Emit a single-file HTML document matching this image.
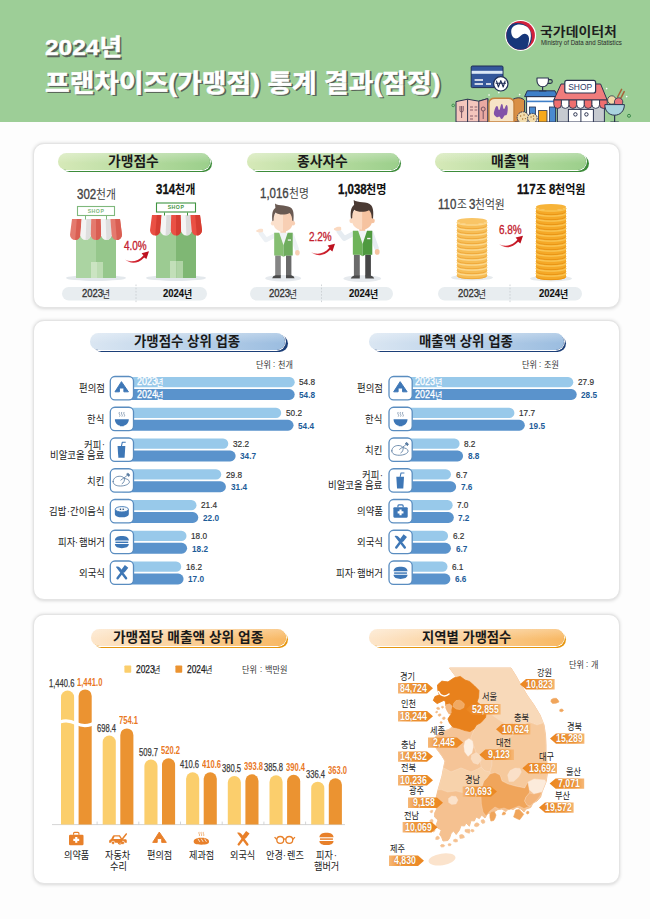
<!DOCTYPE html>
<html lang="ko"><head><meta charset="utf-8"><title>2024년 프랜차이즈(가맹점) 통계 결과(잠정)</title>
<style>
html,body{margin:0;padding:0}
body{width:650px;height:919px;background:#fdfdfd;position:relative;overflow:hidden;font-family:"Liberation Sans","Noto Sans CJK KR",sans-serif;color:#222}
.k{position:absolute;overflow:visible}
.k text{font-family:"Liberation Sans","Noto Sans CJK KR",sans-serif}
.a{position:absolute}
.n{position:absolute;white-space:nowrap;line-height:1;transform-origin:0 0}
.card{position:absolute;background:#fff;border-radius:11px;border:1px solid #e4e4e4;box-shadow:0 .5px 3.5px rgba(0,0,0,.15);box-sizing:border-box}
.pill{position:absolute;border-radius:10px;box-sizing:border-box}
</style></head>
<body>
<div class="a" style="left:0;top:0;width:650px;height:122px;background:#9dce97"></div>
<svg class="k" style="left:42.5px;top:32.67px" width="82.88" height="29.84"><text x="3.7" y="24.02" font-size="22.95" font-weight="700" fill="#566056" stroke="#566056" stroke-width=".5" stroke-linejoin="round" textLength="76.9" lengthAdjust="spacingAndGlyphs">2024년</text><text x="2" y="22.32" font-size="22.95" font-weight="700" fill="#fff" stroke="#fff" stroke-width=".5" stroke-linejoin="round" textLength="76.9" lengthAdjust="spacingAndGlyphs">2024년</text></svg>
<svg class="k" style="left:42.5px;top:67.3px" width="402.27" height="33.02"><text x="3.7" y="26.4" font-size="25.39" font-weight="700" fill="#566056" stroke="#566056" stroke-width=".55" stroke-linejoin="round" textLength="395.5" lengthAdjust="spacingAndGlyphs">프랜차이즈(가맹점) 통계 결과(잠정)</text><text x="2" y="24.7" font-size="25.39" font-weight="700" fill="#fff" stroke="#fff" stroke-width=".55" stroke-linejoin="round" textLength="395.5" lengthAdjust="spacingAndGlyphs">프랜차이즈(가맹점) 통계 결과(잠정)</text></svg>
<div class="card" style="left:32.5px;top:143px;width:587px;height:165.4px"></div>
<div class="card" style="left:32.5px;top:320.3px;width:587px;height:280px"></div>
<div class="card" style="left:32.5px;top:614.3px;width:587px;height:269.6px"></div>
<div class="pill" style="left:60.6px;top:155.10000000000002px;width:151.5px;height:17px;background:#3d8c3a"></div>
<div class="pill" style="left:58px;top:152.8px;width:151.5px;height:17px;box-shadow:0 0 0 .9px #fff;background:linear-gradient(180deg,rgba(255,255,255,.28),rgba(255,255,255,0) 60%),linear-gradient(90deg,#d6e9b8,#9bcf8b)"></div>
<svg class="k" style="left:106.35px;top:152.97px" width="54.79" height="17.78"><text x="2" y="13.3" font-size="13.67" font-weight="700" fill="#1a1a1a" textLength="50.79" lengthAdjust="spacingAndGlyphs">가맹점수</text></svg>
<div class="pill" style="left:249.6px;top:155.10000000000002px;width:151.5px;height:17px;background:#3d8c3a"></div>
<div class="pill" style="left:247px;top:152.8px;width:151.5px;height:17px;box-shadow:0 0 0 .9px #fff;background:linear-gradient(180deg,rgba(255,255,255,.28),rgba(255,255,255,0) 60%),linear-gradient(90deg,#d6e9b8,#9bcf8b)"></div>
<svg class="k" style="left:295.35px;top:152.97px" width="54.79" height="17.78"><text x="2" y="13.3" font-size="13.67" font-weight="700" fill="#1a1a1a" textLength="50.79" lengthAdjust="spacingAndGlyphs">종사자수</text></svg>
<div class="pill" style="left:437.1px;top:155.10000000000002px;width:151.5px;height:17px;background:#3d8c3a"></div>
<div class="pill" style="left:434.5px;top:152.8px;width:151.5px;height:17px;box-shadow:0 0 0 .9px #fff;background:linear-gradient(180deg,rgba(255,255,255,.28),rgba(255,255,255,0) 60%),linear-gradient(90deg,#d6e9b8,#9bcf8b)"></div>
<svg class="k" style="left:489.2px;top:152.97px" width="42.1" height="17.78"><text x="2" y="13.3" font-size="13.67" font-weight="700" fill="#1a1a1a" textLength="38.1" lengthAdjust="spacingAndGlyphs">매출액</text></svg>
<div class="pill" style="left:92.6px;top:335.1px;width:195px;height:17px;background:#1c3f78"></div>
<div class="pill" style="left:90px;top:332.8px;width:195px;height:17px;box-shadow:0 0 0 .9px #fff;background:linear-gradient(180deg,rgba(255,255,255,.28),rgba(255,255,255,0) 60%),linear-gradient(90deg,#dae6f2,#9bbde0)"></div>
<svg class="k" style="left:132.39px;top:332.97px" width="110.23" height="17.78"><text x="2" y="13.3" font-size="13.67" font-weight="700" fill="#1a1a1a" textLength="106.23" lengthAdjust="spacingAndGlyphs">가맹점수 상위 업종</text></svg>
<div class="pill" style="left:371.6px;top:335.1px;width:194.5px;height:17px;background:#1c3f78"></div>
<div class="pill" style="left:369px;top:332.8px;width:194.5px;height:17px;box-shadow:0 0 0 .9px #fff;background:linear-gradient(180deg,rgba(255,255,255,.28),rgba(255,255,255,0) 60%),linear-gradient(90deg,#dae6f2,#9bbde0)"></div>
<svg class="k" style="left:417.34px;top:332.97px" width="97.81" height="17.78"><text x="2" y="13.3" font-size="13.67" font-weight="700" fill="#1a1a1a" textLength="93.81" lengthAdjust="spacingAndGlyphs">매출액 상위 업종</text></svg>
<div class="pill" style="left:93.39999999999999px;top:631.0999999999999px;width:195px;height:17px;background:#e6960e"></div>
<div class="pill" style="left:90.8px;top:628.8px;width:195px;height:17px;box-shadow:0 0 0 .9px #fff;background:linear-gradient(180deg,rgba(255,255,255,.28),rgba(255,255,255,0) 60%),linear-gradient(90deg,#fde6cb,#f8b863)"></div>
<svg class="k" style="left:111.17px;top:628.97px" width="154.27" height="17.78"><text x="2" y="13.3" font-size="13.67" font-weight="700" fill="#1a1a1a" textLength="150.27" lengthAdjust="spacingAndGlyphs">가맹점당 매출액 상위 업종</text></svg>
<div class="pill" style="left:371.8px;top:631.0999999999999px;width:194.5px;height:17px;background:#e6960e"></div>
<div class="pill" style="left:369.2px;top:628.8px;width:194.5px;height:17px;box-shadow:0 0 0 .9px #fff;background:linear-gradient(180deg,rgba(255,255,255,.28),rgba(255,255,255,0) 60%),linear-gradient(90deg,#fde6cb,#f8b863)"></div>
<svg class="k" style="left:419.78px;top:628.97px" width="93.34" height="17.78"><text x="2" y="13.3" font-size="13.67" font-weight="700" fill="#1a1a1a" textLength="89.34" lengthAdjust="spacingAndGlyphs">지역별 가맹점수</text></svg>
<svg class="a" style="left:0;top:0" width="650" height="919" viewBox="0 0 650 919"><defs><linearGradient id="ra" x1="0" y1="0" x2="1" y2="0"><stop offset="0" stop-color="#f0a0a4"/><stop offset=".3" stop-color="#d62a36"/><stop offset="1" stop-color="#b80d1b"/></linearGradient></defs><rect x="62" y="287" width="145" height="13.5" rx="6.7" fill="#e8edf0"/><path d="M136 284.5V303" stroke="#c5cace" stroke-width=".8" stroke-dasharray="1.6 1.6"/><rect x="250" y="287" width="143" height="13.5" rx="6.7" fill="#e8edf0"/><path d="M321.5 284.5V303" stroke="#c5cace" stroke-width=".8" stroke-dasharray="1.6 1.6"/><rect x="438" y="287" width="144" height="13.5" rx="6.7" fill="#e8edf0"/><path d="M510 284.5V303" stroke="#c5cace" stroke-width=".8" stroke-dasharray="1.6 1.6"/><ellipse cx="96" cy="278" rx="30" ry="3" fill="#e3e8ec"/><rect x="76" y="236" width="20" height="42" fill="#abd4a2"/><rect x="96" y="236" width="20" height="42" fill="#96c78c"/><rect x="91" y="262" width="6.0" height="16" fill="#cbe4c2"/><rect x="97.0" y="262" width="6.0" height="16" fill="#bcdcb2"/><path d="M72 219 L81.6 219 L80.4 234.8 A5.2 5.2 0 0 1 70 234.8 Z" fill="#e47a6e"/><path d="M76.8 219 L81.6 219 L80.4 234.8 A5.2 5.2 0 0 1 75.2 240 Z" fill="#d95e52"/><path d="M81.6 219 L91.2 219 L90.8 234.8 A5.2 5.2 0 0 1 80.4 234.8 Z" fill="#f3f3f3"/><path d="M86.4 219 L91.2 219 L90.8 234.8 A5.2 5.2 0 0 1 85.6 240 Z" fill="#dedede"/><path d="M91.2 219 L100.8 219 L101.2 234.8 A5.2 5.2 0 0 1 90.8 234.8 Z" fill="#e47a6e"/><path d="M96 219 L100.8 219 L101.2 234.8 A5.2 5.2 0 0 1 96 240 Z" fill="#d95e52"/><path d="M100.8 219 L110.4 219 L111.6 234.8 A5.2 5.2 0 0 1 101.2 234.8 Z" fill="#f3f3f3"/><path d="M105.6 219 L110.4 219 L111.6 234.8 A5.2 5.2 0 0 1 106.4 240 Z" fill="#dedede"/><path d="M110.4 219 L120 219 L122 234.8 A5.2 5.2 0 0 1 111.6 234.8 Z" fill="#e47a6e"/><path d="M115.2 219 L120 219 L122 234.8 A5.2 5.2 0 0 1 116.8 240 Z" fill="#d95e52"/><rect x="85" y="216" width="1" height="3.5" fill="#7fb87c"/><rect x="106" y="216" width="1" height="3.5" fill="#7fb87c"/><rect x="77.5" y="206.5" width="37" height="9" fill="#fff" stroke="#7fb87c" stroke-width="1.1"/><text x="96" y="212.9" font-size="5.2" font-weight="700" text-anchor="middle" fill="#7fb87c" letter-spacing=".5" font-family="Liberation Sans,sans-serif">SHOP</text><ellipse cx="176" cy="278" rx="30" ry="3" fill="#e3e8ec"/><rect x="156" y="231.5" width="20" height="46.5" fill="#9ccb92"/><rect x="176" y="231.5" width="20" height="46.5" fill="#7fb774"/><rect x="170" y="261" width="6.5" height="17" fill="#c2dfb9"/><rect x="176.5" y="261" width="6.5" height="17" fill="#b0d4a6"/><path d="M152 215 L161.6 215 L160.4 230.3 A5.2 5.2 0 0 1 150 230.3 Z" fill="#ea5044"/><path d="M156.8 215 L161.6 215 L160.4 230.3 A5.2 5.2 0 0 1 155.2 235.5 Z" fill="#d63d32"/><path d="M161.6 215 L171.2 215 L170.8 230.3 A5.2 5.2 0 0 1 160.4 230.3 Z" fill="#f5f5f5"/><path d="M166.4 215 L171.2 215 L170.8 230.3 A5.2 5.2 0 0 1 165.6 235.5 Z" fill="#dcdcdc"/><path d="M171.2 215 L180.8 215 L181.2 230.3 A5.2 5.2 0 0 1 170.8 230.3 Z" fill="#ea5044"/><path d="M176 215 L180.8 215 L181.2 230.3 A5.2 5.2 0 0 1 176 235.5 Z" fill="#d63d32"/><path d="M180.8 215 L190.4 215 L191.6 230.3 A5.2 5.2 0 0 1 181.2 230.3 Z" fill="#f5f5f5"/><path d="M185.6 215 L190.4 215 L191.6 230.3 A5.2 5.2 0 0 1 186.4 235.5 Z" fill="#dcdcdc"/><path d="M190.4 215 L200 215 L202 230.3 A5.2 5.2 0 0 1 191.6 230.3 Z" fill="#ea5044"/><path d="M195.2 215 L200 215 L202 230.3 A5.2 5.2 0 0 1 196.8 235.5 Z" fill="#d63d32"/><rect x="164" y="212.5" width="1" height="3" fill="#3f9440"/><rect x="187" y="212.5" width="1" height="3" fill="#3f9440"/><rect x="156.5" y="203.0" width="39" height="9.0" fill="#fff" stroke="#3f9440" stroke-width="1.1"/><text x="176" y="209.4" font-size="5.2" font-weight="700" text-anchor="middle" fill="#3f9440" letter-spacing=".5" font-family="Liberation Sans,sans-serif">SHOP</text><g transform="translate(125 259.6)"><path d="M0 0C4 3.6 12 5.6 19.2 -2.2L21.4 -0.6L24 -8.3L16.6 -6.4L18.4 -4.2C12.5 2.6 5.5 2.8 0 0Z" fill="url(#ra)"/></g><g transform="translate(283.2 278.2) scale(1.0)"><ellipse cx="0" cy="0" rx="18" ry="3.2" fill="#e6eaee"/><rect x="-8" y="-24" width="5.6" height="22" fill="#858585"/><rect x="2.8" y="-24" width="5.4" height="22" fill="#6a6a6a"/><path d="M-11 0q.4 -2.2 3.4 -2.9h5.2v2.9zM2.8 0v-2.9h5.2q3 .7 3.4 2.9z" fill="#4a4a4a"/><path d="M-8 -43L-17.2 -38.2L-22.4 -45" stroke="#edf1f5" stroke-width="4.6" stroke-linecap="round" stroke-linejoin="round" fill="none"/><path d="M-20 -46.6c-1.6 1.2 -4.6 1.4 -6.6 .2c-.9 -.6 -.5 -1.7 .6 -1.7c1.5 -1.2 4 -1.7 5.8 -.9z" fill="#fbe0cc"/><path d="M8.6 -43.2L13.6 -29" stroke="#edf1f5" stroke-width="4.4" stroke-linecap="round" fill="none"/><ellipse cx="14.2" cy="-25.4" rx="2.3" ry="2.7" fill="#f8cfb4"/><rect x="-2.8" y="-49.5" width="5.6" height="5.5" fill="#f8cfb4"/><path d="M-9 -45.5h18.5v22.7h-18.5z" fill="#f0f3f6"/><path d="M-9 -45.5h5l4.3 12.5v11.6l-2.6 -1.4h-6.7z" fill="#86bf72"/><path d="M9.5 -45.5h-5l-4.2 12.5v11.6l2.5 -1.4h6.7z" fill="#6fad5e"/><rect x="4.6" y="-38.8" width="3.2" height="1.3" fill="#f4f4f4"/><ellipse cx="-10.4" cy="-55" rx="1.9" ry="2.3" fill="#fbe0cc"/><ellipse cx="10" cy="-55" rx="1.9" ry="2.3" fill="#f8cfb4"/><path d="M-0.2 -67.5C-7.5 -67.5 -10.2 -63 -10.2 -57C-10.2 -50.5 -5.7 -46.6 -0.2 -46.6z" fill="#fbe0cc"/><path d="M-0.2 -67.5C7 -67.5 9.8 -63 9.8 -57C9.8 -50.5 5.3 -46.6 -0.2 -46.6z" fill="#f8cfb4"/><path d="M-10.8 -57C-11.6 -64 -10.6 -68.5 -7.8 -70.2L-8.2 -74.8C-4.5 -71.8 5 -74 8.6 -69.6C10.8 -66.8 10.6 -61.5 10.2 -57L9 -57.6C9 -61 8.2 -63.4 6.4 -65.2C2.4 -63 -4.4 -63 -7.6 -65.6C-9.2 -63.4 -9.6 -60.8 -9.6 -57.6Z" fill="#6a5a52"/></g><g transform="translate(362.3 278.6) scale(1.05)"><ellipse cx="0" cy="0" rx="18" ry="3.2" fill="#e6eaee"/><rect x="-8" y="-24" width="5.6" height="22" fill="#6b6b6b"/><rect x="2.8" y="-24" width="5.4" height="22" fill="#474747"/><path d="M-11 0q.4 -2.2 3.4 -2.9h5.2v2.9zM2.8 0v-2.9h5.2q3 .7 3.4 2.9z" fill="#4a4a4a"/><path d="M-8 -43L-17.2 -38.2L-22.4 -45" stroke="#e6ecf1" stroke-width="4.6" stroke-linecap="round" stroke-linejoin="round" fill="none"/><path d="M-20 -46.6c-1.6 1.2 -4.6 1.4 -6.6 .2c-.9 -.6 -.5 -1.7 .6 -1.7c1.5 -1.2 4 -1.7 5.8 -.9z" fill="#fbd9c0"/><path d="M8.6 -43.2L13.6 -29" stroke="#e6ecf1" stroke-width="4.4" stroke-linecap="round" fill="none"/><ellipse cx="14.2" cy="-25.4" rx="2.3" ry="2.7" fill="#f6c3a0"/><rect x="-2.8" y="-49.5" width="5.6" height="5.5" fill="#f6c3a0"/><path d="M-9 -45.5h18.5v22.7h-18.5z" fill="#f0f3f6"/><path d="M-9 -45.5h5l4.3 12.5v11.6l-2.6 -1.4h-6.7z" fill="#6fb45a"/><path d="M9.5 -45.5h-5l-4.2 12.5v11.6l2.5 -1.4h6.7z" fill="#4f9a40"/><rect x="4.6" y="-38.8" width="3.2" height="1.3" fill="#f4f4f4"/><ellipse cx="-10.4" cy="-55" rx="1.9" ry="2.3" fill="#fbd9c0"/><ellipse cx="10" cy="-55" rx="1.9" ry="2.3" fill="#f6c3a0"/><path d="M-0.2 -67.5C-7.5 -67.5 -10.2 -63 -10.2 -57C-10.2 -50.5 -5.7 -46.6 -0.2 -46.6z" fill="#fbd9c0"/><path d="M-0.2 -67.5C7 -67.5 9.8 -63 9.8 -57C9.8 -50.5 5.3 -46.6 -0.2 -46.6z" fill="#f6c3a0"/><path d="M-10.8 -57C-11.6 -64 -10.6 -68.5 -7.8 -70.2L-8.2 -74.8C-4.5 -71.8 5 -74 8.6 -69.6C10.8 -66.8 10.6 -61.5 10.2 -57L9 -57.6C9 -61 8.2 -63.4 6.4 -65.2C2.4 -63 -4.4 -63 -7.6 -65.6C-9.2 -63.4 -9.6 -60.8 -9.6 -57.6Z" fill="#4a3a33"/></g><g transform="translate(311 252)"><path d="M0 0C4 3.6 12 5.6 19.2 -2.2L21.4 -0.6L24 -8.3L16.6 -6.4L18.4 -4.2C12.5 2.6 5.5 2.8 0 0Z" fill="url(#ra)"/></g><ellipse cx="472" cy="277.5" rx="21" ry="3" fill="#e6eaed"/><path d="M457 271V276A15 3.1 0 0 0 487 276V271A15 3.1 0 0 1 457 271Z" fill="#f7bd55"/><path d="M457 275.6A15 3.1 0 0 0 487 275.6" fill="none" stroke="#f0a93a" stroke-width="1"/><path d="M457 271.9A15 3.1 0 0 0 487 271.9" fill="none" stroke="#fcd98f" stroke-width="1.3"/><path d="M457 266V271A15 3.1 0 0 0 487 271V266A15 3.1 0 0 1 457 266Z" fill="#f7bd55"/><path d="M457 270.6A15 3.1 0 0 0 487 270.6" fill="none" stroke="#f0a93a" stroke-width="1"/><path d="M457 266.9A15 3.1 0 0 0 487 266.9" fill="none" stroke="#fcd98f" stroke-width="1.3"/><path d="M457 261V266A15 3.1 0 0 0 487 266V261A15 3.1 0 0 1 457 261Z" fill="#f7bd55"/><path d="M457 265.6A15 3.1 0 0 0 487 265.6" fill="none" stroke="#f0a93a" stroke-width="1"/><path d="M457 261.9A15 3.1 0 0 0 487 261.9" fill="none" stroke="#fcd98f" stroke-width="1.3"/><path d="M457 256V261A15 3.1 0 0 0 487 261V256A15 3.1 0 0 1 457 256Z" fill="#f7bd55"/><path d="M457 260.6A15 3.1 0 0 0 487 260.6" fill="none" stroke="#f0a93a" stroke-width="1"/><path d="M457 256.9A15 3.1 0 0 0 487 256.9" fill="none" stroke="#fcd98f" stroke-width="1.3"/><path d="M457 251V256A15 3.1 0 0 0 487 256V251A15 3.1 0 0 1 457 251Z" fill="#f7bd55"/><path d="M457 255.6A15 3.1 0 0 0 487 255.6" fill="none" stroke="#f0a93a" stroke-width="1"/><path d="M457 251.9A15 3.1 0 0 0 487 251.9" fill="none" stroke="#fcd98f" stroke-width="1.3"/><path d="M457 246V251A15 3.1 0 0 0 487 251V246A15 3.1 0 0 1 457 246Z" fill="#f7bd55"/><path d="M457 250.6A15 3.1 0 0 0 487 250.6" fill="none" stroke="#f0a93a" stroke-width="1"/><path d="M457 246.9A15 3.1 0 0 0 487 246.9" fill="none" stroke="#fcd98f" stroke-width="1.3"/><path d="M457 241V246A15 3.1 0 0 0 487 246V241A15 3.1 0 0 1 457 241Z" fill="#f7bd55"/><path d="M457 245.6A15 3.1 0 0 0 487 245.6" fill="none" stroke="#f0a93a" stroke-width="1"/><path d="M457 241.9A15 3.1 0 0 0 487 241.9" fill="none" stroke="#fcd98f" stroke-width="1.3"/><path d="M457 236V241A15 3.1 0 0 0 487 241V236A15 3.1 0 0 1 457 236Z" fill="#f7bd55"/><path d="M457 240.6A15 3.1 0 0 0 487 240.6" fill="none" stroke="#f0a93a" stroke-width="1"/><path d="M457 236.9A15 3.1 0 0 0 487 236.9" fill="none" stroke="#fcd98f" stroke-width="1.3"/><path d="M457 231V236A15 3.1 0 0 0 487 236V231A15 3.1 0 0 1 457 231Z" fill="#f7bd55"/><path d="M457 235.6A15 3.1 0 0 0 487 235.6" fill="none" stroke="#f0a93a" stroke-width="1"/><path d="M457 231.9A15 3.1 0 0 0 487 231.9" fill="none" stroke="#fcd98f" stroke-width="1.3"/><path d="M457 226V231A15 3.1 0 0 0 487 231V226A15 3.1 0 0 1 457 226Z" fill="#f7bd55"/><path d="M457 230.6A15 3.1 0 0 0 487 230.6" fill="none" stroke="#f0a93a" stroke-width="1"/><path d="M457 226.9A15 3.1 0 0 0 487 226.9" fill="none" stroke="#fcd98f" stroke-width="1.3"/><path d="M457 221V226A15 3.1 0 0 0 487 226V221A15 3.1 0 0 1 457 221Z" fill="#f7bd55"/><path d="M457 225.6A15 3.1 0 0 0 487 225.6" fill="none" stroke="#f0a93a" stroke-width="1"/><path d="M457 221.9A15 3.1 0 0 0 487 221.9" fill="none" stroke="#fcd98f" stroke-width="1.3"/><ellipse cx="472" cy="221" rx="15" ry="3.1" fill="#f9c566"/><ellipse cx="551" cy="278.5" rx="21" ry="3" fill="#e6eaed"/><path d="M536 272V277A15 3.1 0 0 0 566 277V272A15 3.1 0 0 1 536 272Z" fill="#f5a928"/><path d="M536 276.6A15 3.1 0 0 0 566 276.6" fill="none" stroke="#ea9514" stroke-width="1"/><path d="M536 272.9A15 3.1 0 0 0 566 272.9" fill="none" stroke="#fac654" stroke-width="1.3"/><path d="M536 267V272A15 3.1 0 0 0 566 272V267A15 3.1 0 0 1 536 267Z" fill="#f5a928"/><path d="M536 271.6A15 3.1 0 0 0 566 271.6" fill="none" stroke="#ea9514" stroke-width="1"/><path d="M536 267.9A15 3.1 0 0 0 566 267.9" fill="none" stroke="#fac654" stroke-width="1.3"/><path d="M536 262V267A15 3.1 0 0 0 566 267V262A15 3.1 0 0 1 536 262Z" fill="#f5a928"/><path d="M536 266.6A15 3.1 0 0 0 566 266.6" fill="none" stroke="#ea9514" stroke-width="1"/><path d="M536 262.9A15 3.1 0 0 0 566 262.9" fill="none" stroke="#fac654" stroke-width="1.3"/><path d="M536 257V262A15 3.1 0 0 0 566 262V257A15 3.1 0 0 1 536 257Z" fill="#f5a928"/><path d="M536 261.6A15 3.1 0 0 0 566 261.6" fill="none" stroke="#ea9514" stroke-width="1"/><path d="M536 257.9A15 3.1 0 0 0 566 257.9" fill="none" stroke="#fac654" stroke-width="1.3"/><path d="M536 252V257A15 3.1 0 0 0 566 257V252A15 3.1 0 0 1 536 252Z" fill="#f5a928"/><path d="M536 256.6A15 3.1 0 0 0 566 256.6" fill="none" stroke="#ea9514" stroke-width="1"/><path d="M536 252.9A15 3.1 0 0 0 566 252.9" fill="none" stroke="#fac654" stroke-width="1.3"/><path d="M536 247V252A15 3.1 0 0 0 566 252V247A15 3.1 0 0 1 536 247Z" fill="#f5a928"/><path d="M536 251.6A15 3.1 0 0 0 566 251.6" fill="none" stroke="#ea9514" stroke-width="1"/><path d="M536 247.9A15 3.1 0 0 0 566 247.9" fill="none" stroke="#fac654" stroke-width="1.3"/><path d="M536 242V247A15 3.1 0 0 0 566 247V242A15 3.1 0 0 1 536 242Z" fill="#f5a928"/><path d="M536 246.6A15 3.1 0 0 0 566 246.6" fill="none" stroke="#ea9514" stroke-width="1"/><path d="M536 242.9A15 3.1 0 0 0 566 242.9" fill="none" stroke="#fac654" stroke-width="1.3"/><path d="M536 237V242A15 3.1 0 0 0 566 242V237A15 3.1 0 0 1 536 237Z" fill="#f5a928"/><path d="M536 241.6A15 3.1 0 0 0 566 241.6" fill="none" stroke="#ea9514" stroke-width="1"/><path d="M536 237.9A15 3.1 0 0 0 566 237.9" fill="none" stroke="#fac654" stroke-width="1.3"/><path d="M536 232V237A15 3.1 0 0 0 566 237V232A15 3.1 0 0 1 536 232Z" fill="#f5a928"/><path d="M536 236.6A15 3.1 0 0 0 566 236.6" fill="none" stroke="#ea9514" stroke-width="1"/><path d="M536 232.9A15 3.1 0 0 0 566 232.9" fill="none" stroke="#fac654" stroke-width="1.3"/><path d="M536 227V232A15 3.1 0 0 0 566 232V227A15 3.1 0 0 1 536 227Z" fill="#f5a928"/><path d="M536 231.6A15 3.1 0 0 0 566 231.6" fill="none" stroke="#ea9514" stroke-width="1"/><path d="M536 227.9A15 3.1 0 0 0 566 227.9" fill="none" stroke="#fac654" stroke-width="1.3"/><path d="M536 222V227A15 3.1 0 0 0 566 227V222A15 3.1 0 0 1 536 222Z" fill="#f5a928"/><path d="M536 226.6A15 3.1 0 0 0 566 226.6" fill="none" stroke="#ea9514" stroke-width="1"/><path d="M536 222.9A15 3.1 0 0 0 566 222.9" fill="none" stroke="#fac654" stroke-width="1.3"/><path d="M536 217V222A15 3.1 0 0 0 566 222V217A15 3.1 0 0 1 536 217Z" fill="#f5a928"/><path d="M536 221.6A15 3.1 0 0 0 566 221.6" fill="none" stroke="#ea9514" stroke-width="1"/><path d="M536 217.9A15 3.1 0 0 0 566 217.9" fill="none" stroke="#fac654" stroke-width="1.3"/><path d="M536 212V217A15 3.1 0 0 0 566 217V212A15 3.1 0 0 1 536 212Z" fill="#f5a928"/><path d="M536 216.6A15 3.1 0 0 0 566 216.6" fill="none" stroke="#ea9514" stroke-width="1"/><path d="M536 212.9A15 3.1 0 0 0 566 212.9" fill="none" stroke="#fac654" stroke-width="1.3"/><path d="M536 207V212A15 3.1 0 0 0 566 212V207A15 3.1 0 0 1 536 207Z" fill="#f5a928"/><path d="M536 211.6A15 3.1 0 0 0 566 211.6" fill="none" stroke="#ea9514" stroke-width="1"/><path d="M536 207.9A15 3.1 0 0 0 566 207.9" fill="none" stroke="#fac654" stroke-width="1.3"/><ellipse cx="551" cy="207" rx="15" ry="3.1" fill="#f7b338"/><g transform="translate(499 244)"><path d="M0 0C4 3.6 12 5.6 19.2 -2.2L21.4 -0.6L24 -8.3L16.6 -6.4L18.4 -4.2C12.5 2.6 5.5 2.8 0 0Z" fill="url(#ra)"/></g></svg>
<span class="n" style="left:76.6px;top:187.1px;font-size:14px;color:#424242;transform:scaleX(0.82);-webkit-text-stroke:0.35px #424242">302</span><svg class="k" style="left:93.55px;top:187.03px" width="23.84" height="16"><text x="2" y="11.97" font-size="12.3" fill="#424242" textLength="19.84" lengthAdjust="spacingAndGlyphs">천개</text></svg>
<span class="n" style="left:156.36px;top:182.1px;font-size:14px;font-weight:700;color:#111;transform:scaleX(0.82);-webkit-text-stroke:0.3px #111">314</span><svg class="k" style="left:173.32px;top:182.03px" width="24.32" height="16"><text x="2" y="11.97" font-size="12.3" font-weight="700" fill="#111" textLength="20.32" lengthAdjust="spacingAndGlyphs">천개</text></svg>
<span class="n" style="left:260.31px;top:186.1px;font-size:14px;color:#424242;transform:scaleX(0.82);-webkit-text-stroke:0.35px #424242">1,016</span><svg class="k" style="left:286.84px;top:186.03px" width="23.84" height="16"><text x="2" y="11.97" font-size="12.3" fill="#424242" textLength="19.84" lengthAdjust="spacingAndGlyphs">천명</text></svg>
<span class="n" style="left:337.58px;top:182.1px;font-size:14px;font-weight:700;color:#111;transform:scaleX(0.82);-webkit-text-stroke:0.3px #111">1,038</span><svg class="k" style="left:364.11px;top:182.03px" width="24.32" height="16"><text x="2" y="11.97" font-size="12.3" font-weight="700" fill="#111" textLength="20.32" lengthAdjust="spacingAndGlyphs">천명</text></svg>
<span class="n" style="left:437.9px;top:197.1px;font-size:14px;color:#424242;transform:scaleX(0.82);-webkit-text-stroke:0.35px #424242">110</span><svg class="k" style="left:454.85px;top:197.03px" width="13.92" height="16"><text x="2" y="11.97" font-size="12.3" fill="#424242" textLength="9.92" lengthAdjust="spacingAndGlyphs">조</text></svg><span class="n" style="left:469.15px;top:197.1px;font-size:14px;color:#424242;transform:scaleX(0.82);-webkit-text-stroke:0.35px #424242">3</span><svg class="k" style="left:473.33px;top:197.03px" width="33.77" height="16"><text x="2" y="11.97" font-size="12.3" fill="#424242" textLength="29.77" lengthAdjust="spacingAndGlyphs">천억원</text></svg>
<span class="n" style="left:517.43px;top:182.1px;font-size:14px;font-weight:700;color:#111;transform:scaleX(0.82);-webkit-text-stroke:0.3px #111">117</span><svg class="k" style="left:534.38px;top:182.03px" width="14.16" height="16"><text x="2" y="11.97" font-size="12.3" font-weight="700" fill="#111" textLength="10.16" lengthAdjust="spacingAndGlyphs">조</text></svg><span class="n" style="left:548.91px;top:182.1px;font-size:14px;font-weight:700;color:#111;transform:scaleX(0.82);-webkit-text-stroke:0.3px #111">8</span><svg class="k" style="left:553.1px;top:182.03px" width="34.48" height="16"><text x="2" y="11.97" font-size="12.3" font-weight="700" fill="#111" textLength="30.48" lengthAdjust="spacingAndGlyphs">천억원</text></svg>
<span class="n" style="left:81.78px;top:287.69px;font-size:11.3px;color:#333;transform:scaleX(0.84);-webkit-text-stroke:0.35px #333">2023</span><svg class="k" style="left:100.19px;top:287.61px" width="12.03" height="12.95"><text x="2" y="9.69" font-size="9.96" fill="#333" textLength="8.03" lengthAdjust="spacingAndGlyphs">년</text></svg>
<span class="n" style="left:163.33px;top:287.69px;font-size:11.3px;font-weight:700;color:#111;transform:scaleX(0.84);-webkit-text-stroke:0.15px #111">2024</span><svg class="k" style="left:182.45px;top:287.61px" width="12.22" height="12.95"><text x="2" y="9.69" font-size="9.96" font-weight="700" fill="#111" textLength="8.22" lengthAdjust="spacingAndGlyphs">년</text></svg>
<span class="n" style="left:268.78px;top:287.69px;font-size:11.3px;color:#333;transform:scaleX(0.84);-webkit-text-stroke:0.35px #333">2023</span><svg class="k" style="left:287.19px;top:287.61px" width="12.03" height="12.95"><text x="2" y="9.69" font-size="9.96" fill="#333" textLength="8.03" lengthAdjust="spacingAndGlyphs">년</text></svg>
<span class="n" style="left:349.33px;top:287.69px;font-size:11.3px;font-weight:700;color:#111;transform:scaleX(0.84);-webkit-text-stroke:0.15px #111">2024</span><svg class="k" style="left:368.45px;top:287.61px" width="12.22" height="12.95"><text x="2" y="9.69" font-size="9.96" font-weight="700" fill="#111" textLength="8.22" lengthAdjust="spacingAndGlyphs">년</text></svg>
<span class="n" style="left:457.78px;top:287.69px;font-size:11.3px;color:#333;transform:scaleX(0.84);-webkit-text-stroke:0.35px #333">2023</span><svg class="k" style="left:476.19px;top:287.61px" width="12.03" height="12.95"><text x="2" y="9.69" font-size="9.96" fill="#333" textLength="8.03" lengthAdjust="spacingAndGlyphs">년</text></svg>
<span class="n" style="left:539.33px;top:287.69px;font-size:11.3px;font-weight:700;color:#111;transform:scaleX(0.84);-webkit-text-stroke:0.15px #111">2024</span><svg class="k" style="left:558.45px;top:287.61px" width="12.22" height="12.95"><text x="2" y="9.69" font-size="9.96" font-weight="700" fill="#111" textLength="8.22" lengthAdjust="spacingAndGlyphs">년</text></svg>
<span class="n" style="left:124.3px;top:239.8px;font-size:12px;color:#c3202e;transform:scaleX(0.83);-webkit-text-stroke:0.3px #c3202e">4.0%</span>
<span class="n" style="left:309px;top:231.4px;font-size:12px;color:#c3202e;transform:scaleX(0.83);-webkit-text-stroke:0.3px #c3202e">2.2%</span>
<span class="n" style="left:499px;top:224.4px;font-size:12px;color:#c3202e;transform:scaleX(0.83);-webkit-text-stroke:0.3px #c3202e">6.8%</span>
<svg class="a" style="left:0;top:0" width="650" height="919" viewBox="0 0 650 919"><path d="M122.3 377H289.56a5.15 5.15 0 0 1 0 10.3H122.3Z" fill="#98c9ea"/><path d="M122.3 389.1H289.31a5.4 5.4 0 0 1 0 10.8H122.3Z" fill="#5a93cc"/><rect x="110.3" y="376.5" width="23.2" height="23.4" rx="4.6" fill="#fff" stroke="#5a8dc0" stroke-width="1.3"/><g transform="translate(110.2 376.2) scale(.97)"><path d="M11.6 5.6L18.8 16.1H14.1V12.2H9.5V16.1H4.9Z" fill="#3e77b6" stroke="#3e77b6" stroke-width="1" stroke-linejoin="round"/></g><path d="M122.3 407.75H276.04a5.15 5.15 0 0 1 0 10.3H122.3Z" fill="#98c9ea"/><path d="M122.3 419.85H288.14a5.4 5.4 0 0 1 0 10.8H122.3Z" fill="#5a93cc"/><rect x="110.3" y="407.25" width="23.2" height="23.4" rx="4.6" fill="#fff" stroke="#5a8dc0" stroke-width="1.3"/><g transform="translate(110.2 406.95) scale(.97)"><path d="M4.8 12.6H19.2C19.2 16.4 16.4 18.9 14 19.2V20H10V19.2C7.6 18.9 4.8 16.4 4.8 12.6Z" fill="#3e77b6"/><path d="M9.6 5.2q-1 1.2 0 2.4q1 1.2 0 2.4" fill="none" stroke="#4a6a8c" stroke-width=".6"/><path d="M12 5.2q-1 1.2 0 2.4q1 1.2 0 2.4" fill="none" stroke="#4a6a8c" stroke-width=".6"/><path d="M14.4 5.2q-1 1.2 0 2.4q1 1.2 0 2.4" fill="none" stroke="#4a6a8c" stroke-width=".6"/></g><path d="M122.3 438.5H223.12a5.15 5.15 0 0 1 0 10.3H122.3Z" fill="#98c9ea"/><path d="M122.3 450.6H230.22a5.4 5.4 0 0 1 0 10.8H122.3Z" fill="#5a93cc"/><rect x="110.3" y="438" width="23.2" height="23.4" rx="4.6" fill="#fff" stroke="#5a8dc0" stroke-width="1.3"/><g transform="translate(110.2 437.7) scale(.97)"><path d="M7.6 8.6H15.6L14.8 20.6H8.4Z" fill="#3e77b6"/><path d="M11.6 8.8L12.5 4.6H16" fill="none" stroke="#3e77b6" stroke-width="1.1" stroke-linejoin="round"/></g><path d="M122.3 469.25H216.06a5.15 5.15 0 0 1 0 10.3H122.3Z" fill="#98c9ea"/><path d="M122.3 481.35H220.52a5.4 5.4 0 0 1 0 10.8H122.3Z" fill="#5a93cc"/><rect x="110.3" y="468.75" width="23.2" height="23.4" rx="4.6" fill="#fff" stroke="#5a8dc0" stroke-width="1.3"/><g transform="translate(110.2 468.45) scale(.97)"><g fill="none" stroke="#56799f" stroke-width=".85" stroke-linecap="round" stroke-linejoin="round"><path d="M3 13.6C3 9.6 7 7.7 10.6 8.1C12.6 8.3 13.7 9.2 14.7 10.3C17.2 10.7 19.8 11.9 19.8 13.8C19.8 16.2 15.2 18.1 10.6 18.1C6 18.1 3 16.6 3 13.6Z"/><path d="M11 12C12.6 10.6 15.6 9 17.8 6.9"/><path d="M14.7 10.3C15 12.6 14 14.9 12.3 15.7"/><path d="M17.2 5.9l1.9 1.9M18.2 5.1l1.7 1.7" stroke-width="1.2"/></g></g><path d="M122.3 500H191.37a5.15 5.15 0 0 1 0 10.3H122.3Z" fill="#98c9ea"/><path d="M122.3 512.1H192.88a5.4 5.4 0 0 1 0 10.8H122.3Z" fill="#5a93cc"/><rect x="110.3" y="499.5" width="23.2" height="23.4" rx="4.6" fill="#fff" stroke="#5a8dc0" stroke-width="1.3"/><g transform="translate(110.2 499.2) scale(.97)"><path d="M4.8 10.4V15.6A7.2 3.1 0 0 0 19.2 15.6V10.4Z" fill="#3e77b6"/><ellipse cx="12" cy="10.4" rx="6.8" ry="2.8" fill="#f1f6fb" stroke="#3e77b6" stroke-width=".9"/><circle cx="10.6" cy="10.4" r=".8" fill="#1f3f66"/><circle cx="13.4" cy="10.4" r=".8" fill="#1f3f66"/></g><path d="M122.3 530.75H181.37a5.15 5.15 0 0 1 0 10.3H122.3Z" fill="#98c9ea"/><path d="M122.3 542.85H181.71a5.4 5.4 0 0 1 0 10.8H122.3Z" fill="#5a93cc"/><rect x="110.3" y="530.25" width="23.2" height="23.4" rx="4.6" fill="#fff" stroke="#5a8dc0" stroke-width="1.3"/><g transform="translate(110.2 529.95) scale(.97)"><path d="M4.8 10.9C4.8 7.6 8 6.2 12 6.2C16 6.2 19.2 7.6 19.2 10.9Z" fill="#3e77b6"/><rect x="5.4" y="12" width="13.2" height="1.5" fill="#3e77b6"/><path d="M4.8 14.6H19.2C19.2 17.6 16 18.8 12 18.8C8 18.8 4.8 17.6 4.8 14.6Z" fill="#3e77b6"/></g><path d="M122.3 561.5H176.08a5.15 5.15 0 0 1 0 10.3H122.3Z" fill="#98c9ea"/><path d="M122.3 573.6H178.18a5.4 5.4 0 0 1 0 10.8H122.3Z" fill="#5a93cc"/><rect x="110.3" y="561" width="23.2" height="23.4" rx="4.6" fill="#fff" stroke="#5a8dc0" stroke-width="1.3"/><g transform="translate(110.2 560.7) scale(.97)"><g fill="#3e77b6"><g transform="rotate(-37 12 12.3)"><path d="M10.6 3.9C13.4 4.1 14 7.2 13.8 11.4H13.2V19.6a1.25 1.25 0 0 1 -2.5 0V3.9Z"/></g><g transform="rotate(37 12 12.3)"><path d="M9.8 4.2h4.4v5.4a2.3 2.3 0 0 1 -.95 1.9V19.6a1.25 1.25 0 0 1 -2.5 0V11.5a2.3 2.3 0 0 1 -.95 -1.9Z"/></g></g></g><path d="M401 377H568.13a5.15 5.15 0 0 1 0 10.3H401Z" fill="#98c9ea"/><path d="M401 389.1H571.35a5.4 5.4 0 0 1 0 10.8H401Z" fill="#5a93cc"/><rect x="389" y="376.5" width="23.2" height="23.4" rx="4.6" fill="#fff" stroke="#5a8dc0" stroke-width="1.3"/><g transform="translate(388.9 376.2) scale(.97)"><path d="M11.6 5.6L18.8 16.1H14.1V12.2H9.5V16.1H4.9Z" fill="#3e77b6" stroke="#3e77b6" stroke-width="1" stroke-linejoin="round"/></g><path d="M401 407.75H509.28a5.15 5.15 0 0 1 0 10.3H401Z" fill="#98c9ea"/><path d="M401 419.85H519.42a5.4 5.4 0 0 1 0 10.8H401Z" fill="#5a93cc"/><rect x="389" y="407.25" width="23.2" height="23.4" rx="4.6" fill="#fff" stroke="#5a8dc0" stroke-width="1.3"/><g transform="translate(388.9 406.95) scale(.97)"><path d="M4.8 12.6H19.2C19.2 16.4 16.4 18.9 14 19.2V20H10V19.2C7.6 18.9 4.8 16.4 4.8 12.6Z" fill="#3e77b6"/><path d="M9.6 5.2q-1 1.2 0 2.4q1 1.2 0 2.4" fill="none" stroke="#4a6a8c" stroke-width=".6"/><path d="M12 5.2q-1 1.2 0 2.4q1 1.2 0 2.4" fill="none" stroke="#4a6a8c" stroke-width=".6"/><path d="M14.4 5.2q-1 1.2 0 2.4q1 1.2 0 2.4" fill="none" stroke="#4a6a8c" stroke-width=".6"/></g><path d="M401 438.5H454.46a5.15 5.15 0 0 1 0 10.3H401Z" fill="#98c9ea"/><path d="M401 450.6H457.68a5.4 5.4 0 0 1 0 10.8H401Z" fill="#5a93cc"/><rect x="389" y="438" width="23.2" height="23.4" rx="4.6" fill="#fff" stroke="#5a8dc0" stroke-width="1.3"/><g transform="translate(388.9 437.7) scale(.97)"><g fill="none" stroke="#56799f" stroke-width=".85" stroke-linecap="round" stroke-linejoin="round"><path d="M3 13.6C3 9.6 7 7.7 10.6 8.1C12.6 8.3 13.7 9.2 14.7 10.3C17.2 10.7 19.8 11.9 19.8 13.8C19.8 16.2 15.2 18.1 10.6 18.1C6 18.1 3 16.6 3 13.6Z"/><path d="M11 12C12.6 10.6 15.6 9 17.8 6.9"/><path d="M14.7 10.3C15 12.6 14 14.9 12.3 15.7"/><path d="M17.2 5.9l1.9 1.9M18.2 5.1l1.7 1.7" stroke-width="1.2"/></g></g><path d="M401 469.25H445.81a5.15 5.15 0 0 1 0 10.3H401Z" fill="#98c9ea"/><path d="M401 481.35H450.75a5.4 5.4 0 0 1 0 10.8H401Z" fill="#5a93cc"/><rect x="389" y="468.75" width="23.2" height="23.4" rx="4.6" fill="#fff" stroke="#5a8dc0" stroke-width="1.3"/><g transform="translate(388.9 468.45) scale(.97)"><path d="M7.6 8.6H15.6L14.8 20.6H8.4Z" fill="#3e77b6"/><path d="M11.6 8.8L12.5 4.6H16" fill="none" stroke="#3e77b6" stroke-width="1.1" stroke-linejoin="round"/></g><path d="M401 500H447.54a5.15 5.15 0 0 1 0 10.3H401Z" fill="#98c9ea"/><path d="M401 512.1H448.44a5.4 5.4 0 0 1 0 10.8H401Z" fill="#5a93cc"/><rect x="389" y="499.5" width="23.2" height="23.4" rx="4.6" fill="#fff" stroke="#5a8dc0" stroke-width="1.3"/><g transform="translate(388.9 499.2) scale(.97)"><rect x="4.6" y="8.2" width="14.8" height="10.8" rx="1.2" fill="#3e77b6"/><path d="M9.3 8.4V6.9a1 1 0 0 1 1 -1h3.4a1 1 0 0 1 1 1V8.4" fill="none" stroke="#3e77b6" stroke-width="1.2"/><path d="M10.9 10.6h2.2v1.9h1.9v2.2h-1.9v1.9h-2.2v-1.9H9v-2.2h1.9z" fill="#fff"/></g><path d="M401 530.75H442.92a5.15 5.15 0 0 1 0 10.3H401Z" fill="#98c9ea"/><path d="M401 542.85H445.56a5.4 5.4 0 0 1 0 10.8H401Z" fill="#5a93cc"/><rect x="389" y="530.25" width="23.2" height="23.4" rx="4.6" fill="#fff" stroke="#5a8dc0" stroke-width="1.3"/><g transform="translate(388.9 529.95) scale(.97)"><g fill="#3e77b6"><g transform="rotate(-37 12 12.3)"><path d="M10.6 3.9C13.4 4.1 14 7.2 13.8 11.4H13.2V19.6a1.25 1.25 0 0 1 -2.5 0V3.9Z"/></g><g transform="rotate(37 12 12.3)"><path d="M9.8 4.2h4.4v5.4a2.3 2.3 0 0 1 -.95 1.9V19.6a1.25 1.25 0 0 1 -2.5 0V11.5a2.3 2.3 0 0 1 -.95 -1.9Z"/></g></g></g><path d="M401 561.5H442.35a5.15 5.15 0 0 1 0 10.3H401Z" fill="#98c9ea"/><path d="M401 573.6H444.98a5.4 5.4 0 0 1 0 10.8H401Z" fill="#5a93cc"/><rect x="389" y="561" width="23.2" height="23.4" rx="4.6" fill="#fff" stroke="#5a8dc0" stroke-width="1.3"/><g transform="translate(388.9 560.7) scale(.97)"><path d="M4.8 10.9C4.8 7.6 8 6.2 12 6.2C16 6.2 19.2 7.6 19.2 10.9Z" fill="#3e77b6"/><rect x="5.4" y="12" width="13.2" height="1.5" fill="#3e77b6"/><path d="M4.8 14.6H19.2C19.2 17.6 16 18.8 12 18.8C8 18.8 4.8 17.6 4.8 14.6Z" fill="#3e77b6"/></g></svg>
<span class="n" style="left:299.31px;top:377.27px;font-size:9.8px;color:#333;transform:scaleX(0.84);-webkit-text-stroke:0.2px #333">54.8</span>
<span class="n" style="left:299.31px;top:389.77px;font-size:9.8px;font-weight:700;color:#1d5c99;transform:scaleX(0.84)">54.8</span>
<svg class="k" style="left:76.62px;top:382.33px" width="29.98" height="13.46"><text x="2" y="10.07" font-size="10.35" fill="#222" textLength="25.98" lengthAdjust="spacingAndGlyphs">편의점</text></svg>
<span class="n" style="left:285.79px;top:408.02px;font-size:9.8px;color:#333;transform:scaleX(0.84);-webkit-text-stroke:0.2px #333">50.2</span>
<span class="n" style="left:298.14px;top:420.52px;font-size:9.8px;font-weight:700;color:#1d5c99;transform:scaleX(0.84)">54.4</span>
<svg class="k" style="left:85.28px;top:413.08px" width="21.32" height="13.46"><text x="2" y="10.07" font-size="10.35" fill="#222" textLength="17.32" lengthAdjust="spacingAndGlyphs">한식</text></svg>
<span class="n" style="left:232.87px;top:438.77px;font-size:9.8px;color:#333;transform:scaleX(0.84);-webkit-text-stroke:0.2px #333">32.2</span>
<span class="n" style="left:240.22px;top:451.27px;font-size:9.8px;font-weight:700;color:#1d5c99;transform:scaleX(0.84)">34.7</span>
<svg class="k" style="left:82.05px;top:438.53px" width="21.32" height="13.46"><text x="2" y="10.07" font-size="10.35" fill="#222" textLength="17.32" lengthAdjust="spacingAndGlyphs">커피</text></svg><span class="n" style="left:101.77px;top:440.1px;font-size:10px;color:#222;transform:scaleX(0.85)">·</span>
<svg class="k" style="left:47.5px;top:448.73px" width="38.64" height="13.46"><text x="2" y="10.07" font-size="10.35" fill="#222" textLength="34.64" lengthAdjust="spacingAndGlyphs">비알코올</text></svg><svg class="k" style="left:85.28px;top:448.73px" width="21.32" height="13.46"><text x="2" y="10.07" font-size="10.35" fill="#222" textLength="17.32" lengthAdjust="spacingAndGlyphs">음료</text></svg>
<span class="n" style="left:225.81px;top:469.52px;font-size:9.8px;color:#333;transform:scaleX(0.84);-webkit-text-stroke:0.2px #333">29.8</span>
<span class="n" style="left:230.52px;top:482.02px;font-size:9.8px;font-weight:700;color:#1d5c99;transform:scaleX(0.84)">31.4</span>
<svg class="k" style="left:85.28px;top:474.58px" width="21.32" height="13.46"><text x="2" y="10.07" font-size="10.35" fill="#222" textLength="17.32" lengthAdjust="spacingAndGlyphs">치킨</text></svg>
<span class="n" style="left:201.12px;top:500.27px;font-size:9.8px;color:#333;transform:scaleX(0.84);-webkit-text-stroke:0.2px #333">21.4</span>
<span class="n" style="left:202.88px;top:512.77px;font-size:9.8px;font-weight:700;color:#1d5c99;transform:scaleX(0.84)">22.0</span>
<svg class="k" style="left:47.01px;top:505.33px" width="21.32" height="13.46"><text x="2" y="10.07" font-size="10.35" fill="#222" textLength="17.32" lengthAdjust="spacingAndGlyphs">김밥</text></svg><span class="n" style="left:66.73px;top:506.9px;font-size:10px;color:#222;transform:scaleX(0.85)">·</span><svg class="k" style="left:67.96px;top:505.33px" width="38.64" height="13.46"><text x="2" y="10.07" font-size="10.35" fill="#222" textLength="34.64" lengthAdjust="spacingAndGlyphs">간이음식</text></svg>
<span class="n" style="left:191.12px;top:531.02px;font-size:9.8px;color:#333;transform:scaleX(0.84);-webkit-text-stroke:0.2px #333">18.0</span>
<span class="n" style="left:191.71px;top:543.52px;font-size:9.8px;font-weight:700;color:#1d5c99;transform:scaleX(0.84)">18.2</span>
<svg class="k" style="left:55.67px;top:536.08px" width="21.32" height="13.46"><text x="2" y="10.07" font-size="10.35" fill="#222" textLength="17.32" lengthAdjust="spacingAndGlyphs">피자</text></svg><span class="n" style="left:75.39px;top:537.65px;font-size:10px;color:#222;transform:scaleX(0.85)">·</span><svg class="k" style="left:76.62px;top:536.08px" width="29.98" height="13.46"><text x="2" y="10.07" font-size="10.35" fill="#222" textLength="25.98" lengthAdjust="spacingAndGlyphs">햄버거</text></svg>
<span class="n" style="left:185.83px;top:561.77px;font-size:9.8px;color:#333;transform:scaleX(0.84);-webkit-text-stroke:0.2px #333">16.2</span>
<span class="n" style="left:188.18px;top:574.27px;font-size:9.8px;font-weight:700;color:#1d5c99;transform:scaleX(0.84)">17.0</span>
<svg class="k" style="left:76.62px;top:566.83px" width="29.98" height="13.46"><text x="2" y="10.07" font-size="10.35" fill="#222" textLength="25.98" lengthAdjust="spacingAndGlyphs">외국식</text></svg>
<span class="n" style="left:136.6px;top:377.33px;font-size:10.2px;color:#fff;transform:scaleX(0.88);-webkit-text-stroke:0.3px #fff">2023</span><svg class="k" style="left:154.07px;top:377.26px" width="11.33" height="11.68"><text x="2" y="8.74" font-size="8.98" font-weight="500" fill="#fff" textLength="7.33" lengthAdjust="spacingAndGlyphs">년</text></svg>
<span class="n" style="left:136.6px;top:389.73px;font-size:10.2px;color:#fff;transform:scaleX(0.88);-webkit-text-stroke:0.3px #fff">2024</span><svg class="k" style="left:154.07px;top:389.66px" width="11.33" height="11.68"><text x="2" y="8.74" font-size="8.98" font-weight="500" fill="#fff" textLength="7.33" lengthAdjust="spacingAndGlyphs">년</text></svg>
<span class="n" style="left:577.88px;top:377.27px;font-size:9.8px;color:#333;transform:scaleX(0.84);-webkit-text-stroke:0.2px #333">27.9</span>
<span class="n" style="left:581.35px;top:389.77px;font-size:9.8px;font-weight:700;color:#1d5c99;transform:scaleX(0.84)">28.5</span>
<svg class="k" style="left:354.62px;top:382.33px" width="29.98" height="13.46"><text x="2" y="10.07" font-size="10.35" fill="#222" textLength="25.98" lengthAdjust="spacingAndGlyphs">편의점</text></svg>
<span class="n" style="left:519.03px;top:408.02px;font-size:9.8px;color:#333;transform:scaleX(0.84);-webkit-text-stroke:0.2px #333">17.7</span>
<span class="n" style="left:529.42px;top:420.52px;font-size:9.8px;font-weight:700;color:#1d5c99;transform:scaleX(0.84)">19.5</span>
<svg class="k" style="left:363.28px;top:413.08px" width="21.32" height="13.46"><text x="2" y="10.07" font-size="10.35" fill="#222" textLength="17.32" lengthAdjust="spacingAndGlyphs">한식</text></svg>
<span class="n" style="left:464.21px;top:438.77px;font-size:9.8px;color:#333;transform:scaleX(0.84);-webkit-text-stroke:0.2px #333">8.2</span>
<span class="n" style="left:467.68px;top:451.27px;font-size:9.8px;font-weight:700;color:#1d5c99;transform:scaleX(0.84)">8.8</span>
<svg class="k" style="left:363.28px;top:443.83px" width="21.32" height="13.46"><text x="2" y="10.07" font-size="10.35" fill="#222" textLength="17.32" lengthAdjust="spacingAndGlyphs">치킨</text></svg>
<span class="n" style="left:455.56px;top:469.52px;font-size:9.8px;color:#333;transform:scaleX(0.84);-webkit-text-stroke:0.2px #333">6.7</span>
<span class="n" style="left:460.75px;top:482.02px;font-size:9.8px;font-weight:700;color:#1d5c99;transform:scaleX(0.84)">7.6</span>
<svg class="k" style="left:360.05px;top:469.28px" width="21.32" height="13.46"><text x="2" y="10.07" font-size="10.35" fill="#222" textLength="17.32" lengthAdjust="spacingAndGlyphs">커피</text></svg><span class="n" style="left:379.77px;top:470.85px;font-size:10px;color:#222;transform:scaleX(0.85)">·</span>
<svg class="k" style="left:325.5px;top:479.48px" width="38.64" height="13.46"><text x="2" y="10.07" font-size="10.35" fill="#222" textLength="34.64" lengthAdjust="spacingAndGlyphs">비알코올</text></svg><svg class="k" style="left:363.28px;top:479.48px" width="21.32" height="13.46"><text x="2" y="10.07" font-size="10.35" fill="#222" textLength="17.32" lengthAdjust="spacingAndGlyphs">음료</text></svg>
<span class="n" style="left:457.29px;top:500.27px;font-size:9.8px;color:#333;transform:scaleX(0.84);-webkit-text-stroke:0.2px #333">7.0</span>
<span class="n" style="left:458.44px;top:512.77px;font-size:9.8px;font-weight:700;color:#1d5c99;transform:scaleX(0.84)">7.2</span>
<svg class="k" style="left:354.62px;top:505.33px" width="29.98" height="13.46"><text x="2" y="10.07" font-size="10.35" fill="#222" textLength="25.98" lengthAdjust="spacingAndGlyphs">의약품</text></svg>
<span class="n" style="left:452.67px;top:531.02px;font-size:9.8px;color:#333;transform:scaleX(0.84);-webkit-text-stroke:0.2px #333">6.2</span>
<span class="n" style="left:455.56px;top:543.52px;font-size:9.8px;font-weight:700;color:#1d5c99;transform:scaleX(0.84)">6.7</span>
<svg class="k" style="left:354.62px;top:536.08px" width="29.98" height="13.46"><text x="2" y="10.07" font-size="10.35" fill="#222" textLength="25.98" lengthAdjust="spacingAndGlyphs">외국식</text></svg>
<span class="n" style="left:452.1px;top:561.77px;font-size:9.8px;color:#333;transform:scaleX(0.84);-webkit-text-stroke:0.2px #333">6.1</span>
<span class="n" style="left:454.98px;top:574.27px;font-size:9.8px;font-weight:700;color:#1d5c99;transform:scaleX(0.84)">6.6</span>
<svg class="k" style="left:333.67px;top:566.83px" width="21.32" height="13.46"><text x="2" y="10.07" font-size="10.35" fill="#222" textLength="17.32" lengthAdjust="spacingAndGlyphs">피자</text></svg><span class="n" style="left:353.39px;top:568.4px;font-size:10px;color:#222;transform:scaleX(0.85)">·</span><svg class="k" style="left:354.62px;top:566.83px" width="29.98" height="13.46"><text x="2" y="10.07" font-size="10.35" fill="#222" textLength="25.98" lengthAdjust="spacingAndGlyphs">햄버거</text></svg>
<span class="n" style="left:415.3px;top:377.33px;font-size:10.2px;color:#fff;transform:scaleX(0.88);-webkit-text-stroke:0.3px #fff">2023</span><svg class="k" style="left:432.77px;top:377.26px" width="11.33" height="11.68"><text x="2" y="8.74" font-size="8.98" font-weight="500" fill="#fff" textLength="7.33" lengthAdjust="spacingAndGlyphs">년</text></svg>
<span class="n" style="left:415.3px;top:389.73px;font-size:10.2px;color:#fff;transform:scaleX(0.88);-webkit-text-stroke:0.3px #fff">2024</span><svg class="k" style="left:432.77px;top:389.66px" width="11.33" height="11.68"><text x="2" y="8.74" font-size="8.98" font-weight="500" fill="#fff" textLength="7.33" lengthAdjust="spacingAndGlyphs">년</text></svg>
<svg class="k" style="left:253.55px;top:359.45px" width="18.88" height="11.43"><text x="2" y="8.55" font-size="8.79" fill="#333" textLength="14.88" lengthAdjust="spacingAndGlyphs">단위</text></svg><span class="n" style="left:273.21px;top:360.35px;font-size:9px;color:#333;transform:scaleX(0.85)">:</span><svg class="k" style="left:276.12px;top:359.45px" width="18.88" height="11.43"><text x="2" y="8.55" font-size="8.79" fill="#333" textLength="14.88" lengthAdjust="spacingAndGlyphs">천개</text></svg>
<svg class="k" style="left:519.55px;top:359.45px" width="18.88" height="11.43"><text x="2" y="8.55" font-size="8.79" fill="#333" textLength="14.88" lengthAdjust="spacingAndGlyphs">단위</text></svg><span class="n" style="left:539.21px;top:360.35px;font-size:9px;color:#333;transform:scaleX(0.85)">:</span><svg class="k" style="left:542.12px;top:359.45px" width="18.88" height="11.43"><text x="2" y="8.55" font-size="8.79" fill="#333" textLength="14.88" lengthAdjust="spacingAndGlyphs">조원</text></svg>
<svg class="a" style="left:0;top:0" width="650" height="919" viewBox="0 0 650 919"><path d="M52 824.6H345" stroke="#c9c9c9" stroke-width=".8"/><path d="M97.1 824.6v-3" stroke="#c9c9c9" stroke-width=".8"/><path d="M138.8 824.6v-3" stroke="#c9c9c9" stroke-width=".8"/><path d="M180.5 824.6v-3" stroke="#c9c9c9" stroke-width=".8"/><path d="M222.2 824.6v-3" stroke="#c9c9c9" stroke-width=".8"/><path d="M263.9 824.6v-3" stroke="#c9c9c9" stroke-width=".8"/><path d="M305.6 824.6v-3" stroke="#c9c9c9" stroke-width=".8"/><path d="M61 824.6V697.15a6.55 6.55 0 0 1 13.1 0V824.6Z" fill="#fbce6c"/><path d="M78.6 824.6V695.95a6.55 6.55 0 0 1 13.1 0V824.6Z" fill="#eb9331"/><g transform="translate(64.5 826.6) scale(.98)"><rect x="4.6" y="8.2" width="14.8" height="10.8" rx="1.2" fill="#e8802a"/><path d="M9.3 8.4V6.9a1 1 0 0 1 1 -1h3.4a1 1 0 0 1 1 1V8.4" fill="none" stroke="#e8802a" stroke-width="1.2"/><path d="M10.9 10.6h2.2v1.9h1.9v2.2h-1.9v1.9h-2.2v-1.9H9v-2.2h1.9z" fill="#fff"/></g><path d="M102.7 824.6V742.03a6.55 6.55 0 0 1 13.1 0V824.6Z" fill="#fbce6c"/><path d="M120.3 824.6V734.93a6.55 6.55 0 0 1 13.1 0V824.6Z" fill="#eb9331"/><g transform="translate(106.2 826.6) scale(.98)"><path d="M3 15.2C3 13.6 3.8 13 5 12.8L6.6 9.8C7 9 7.6 8.8 8.4 8.8H14L16.6 12.8H19.6C20.6 12.8 21 13.4 21 14.4V16.4H3Z" fill="#e8802a"/><path d="M7.4 12.6L8.6 10.2H13.2L14.8 12.6Z" fill="#fff"/><circle cx="7" cy="16.6" r="1.7" fill="#e8802a" stroke="#fff" stroke-width=".7"/><circle cx="17" cy="16.6" r="1.7" fill="#e8802a" stroke="#fff" stroke-width=".7"/><path d="M13.5 16.5L20.5 7.5" stroke="#e8802a" stroke-width="1.5" stroke-linecap="round"/><circle cx="14" cy="16" r="1.9" fill="none" stroke="#e8802a" stroke-width="1.1"/></g><path d="M144.4 824.6V766.11a6.55 6.55 0 0 1 13.1 0V824.6Z" fill="#fbce6c"/><path d="M162 824.6V764.77a6.55 6.55 0 0 1 13.1 0V824.6Z" fill="#eb9331"/><g transform="translate(147.9 826.6) scale(.98)"><path d="M11.6 5.6L18.8 16.1H14.1V12.2H9.5V16.1H4.9Z" fill="#e8802a" stroke="#e8802a" stroke-width="1" stroke-linejoin="round"/></g><path d="M186.1 824.6V778.76a6.55 6.55 0 0 1 13.1 0V824.6Z" fill="#fbce6c"/><path d="M203.7 824.6V778.76a6.55 6.55 0 0 1 13.1 0V824.6Z" fill="#eb9331"/><g transform="translate(189.6 826.6) scale(.98)"><path d="M4.2 15.8C3.8 13.2 6.5 11.4 12 11.4C17.5 11.4 20.2 13.2 19.8 15.8C19.6 17.6 17.6 18.4 12 18.4C6.4 18.4 4.4 17.6 4.2 15.8Z" fill="#e8802a"/><path d="M8.6 12.6l1.6 2.6" stroke="#fff" stroke-width=".8" stroke-linecap="round"/><path d="M12 12.6l1.6 2.6" stroke="#fff" stroke-width=".8" stroke-linecap="round"/><path d="M15.4 12.6l1.6 2.6" stroke="#fff" stroke-width=".8" stroke-linecap="round"/><path d="M9.8 5.4q-.9 1.1 0 2.1q.9 1.1 0 2.1" fill="none" stroke="#e8852a" stroke-width=".6"/><path d="M12 5.4q-.9 1.1 0 2.1q.9 1.1 0 2.1" fill="none" stroke="#e8852a" stroke-width=".6"/><path d="M14.2 5.4q-.9 1.1 0 2.1q.9 1.1 0 2.1" fill="none" stroke="#e8852a" stroke-width=".6"/></g><path d="M227.8 824.6V782.6a6.55 6.55 0 0 1 13.1 0V824.6Z" fill="#fbce6c"/><path d="M245.4 824.6V780.9a6.55 6.55 0 0 1 13.1 0V824.6Z" fill="#eb9331"/><g transform="translate(231.3 826.6) scale(.98)"><g fill="#e8802a"><g transform="rotate(-37 12 12.3)"><path d="M10.6 3.9C13.4 4.1 14 7.2 13.8 11.4H13.2V19.6a1.25 1.25 0 0 1 -2.5 0V3.9Z"/></g><g transform="rotate(37 12 12.3)"><path d="M9.8 4.2h4.4v5.4a2.3 2.3 0 0 1 -.95 1.9V19.6a1.25 1.25 0 0 1 -2.5 0V11.5a2.3 2.3 0 0 1 -.95 -1.9Z"/></g></g></g><path d="M269.5 824.6V781.92a6.55 6.55 0 0 1 13.1 0V824.6Z" fill="#fbce6c"/><path d="M287.1 824.6V781.33a6.55 6.55 0 0 1 13.1 0V824.6Z" fill="#eb9331"/><g transform="translate(273 826.6) scale(.98)"><g fill="none" stroke="#e8802a" stroke-width="1.3"><circle cx="7.4" cy="13.6" r="3.5"/><circle cx="16.6" cy="13.6" r="3.5"/><path d="M10.9 13.2q1.1 -1.2 2.2 0M3.9 13.2L1.6 10.8M20.1 13.2L22.4 10.8"/></g></g><path d="M311.2 824.6V788.23a6.55 6.55 0 0 1 13.1 0V824.6Z" fill="#fbce6c"/><path d="M328.8 824.6V784.83a6.55 6.55 0 0 1 13.1 0V824.6Z" fill="#eb9331"/><g transform="translate(314.7 826.6) scale(.98)"><path d="M4.8 10.9C4.8 7.6 8 6.2 12 6.2C16 6.2 19.2 7.6 19.2 10.9Z" fill="#e8802a"/><rect x="5.4" y="12" width="13.2" height="1.5" fill="#e8802a"/><path d="M4.8 14.6H19.2C19.2 17.6 16 18.8 12 18.8C8 18.8 4.8 17.6 4.8 14.6Z" fill="#e8802a"/></g><path d="M56 724.6C62 719.5 70 720.5 76.5 723.6S90 726 97 721.6" fill="none" stroke="#fff" stroke-width="3.2"/><rect x="124.4" y="665.4" width="6.8" height="7.4" rx=".8" fill="#fbce6c"/><rect x="175.4" y="665.4" width="6.8" height="7.4" rx=".8" fill="#eb9331"/></svg>
<span class="n" style="left:49.04px;top:678.7px;font-size:10px;color:#3a3a3a;transform:scaleX(0.76);-webkit-text-stroke:0.25px #3a3a3a">1,440.6</span>
<span class="n" style="left:77.3px;top:677.5px;font-size:10px;font-weight:700;color:#e9781f;transform:scaleX(0.76)">1,441.0</span>
<svg class="k" style="left:61.66px;top:848.84px" width="29.28" height="13.59"><text x="2" y="10.16" font-size="10.45" fill="#222" textLength="25.28" lengthAdjust="spacingAndGlyphs">의약품</text></svg>
<span class="n" style="left:97.08px;top:723.58px;font-size:10px;color:#3a3a3a;transform:scaleX(0.76);-webkit-text-stroke:0.25px #3a3a3a">698.4</span>
<span class="n" style="left:119px;top:716.48px;font-size:10px;font-weight:700;color:#e9781f;transform:scaleX(0.76)">754.1</span>
<svg class="k" style="left:103.36px;top:848.84px" width="29.28" height="13.59"><text x="2" y="10.16" font-size="10.45" fill="#222" textLength="25.28" lengthAdjust="spacingAndGlyphs">자동차</text></svg>
<svg class="k" style="left:107.57px;top:860.04px" width="20.85" height="13.59"><text x="2" y="10.16" font-size="10.45" fill="#222" textLength="16.85" lengthAdjust="spacingAndGlyphs">수리</text></svg>
<span class="n" style="left:138.78px;top:747.66px;font-size:10px;color:#3a3a3a;transform:scaleX(0.76);-webkit-text-stroke:0.25px #3a3a3a">509.7</span>
<span class="n" style="left:160.7px;top:746.32px;font-size:10px;font-weight:700;color:#e9781f;transform:scaleX(0.76)">520.2</span>
<svg class="k" style="left:145.06px;top:848.84px" width="29.28" height="13.59"><text x="2" y="10.16" font-size="10.45" fill="#222" textLength="25.28" lengthAdjust="spacingAndGlyphs">편의점</text></svg>
<span class="n" style="left:180.48px;top:760.31px;font-size:10px;color:#3a3a3a;transform:scaleX(0.76);-webkit-text-stroke:0.25px #3a3a3a">410.6</span>
<span class="n" style="left:202.4px;top:760.31px;font-size:10px;font-weight:700;color:#e9781f;transform:scaleX(0.76)">410.6</span>
<svg class="k" style="left:186.76px;top:848.84px" width="29.28" height="13.59"><text x="2" y="10.16" font-size="10.45" fill="#222" textLength="25.28" lengthAdjust="spacingAndGlyphs">제과점</text></svg>
<span class="n" style="left:222.18px;top:764.15px;font-size:10px;color:#3a3a3a;transform:scaleX(0.76);-webkit-text-stroke:0.25px #3a3a3a">380.5</span>
<span class="n" style="left:244.1px;top:762.45px;font-size:10px;font-weight:700;color:#e9781f;transform:scaleX(0.76)">393.8</span>
<svg class="k" style="left:228.46px;top:848.84px" width="29.28" height="13.59"><text x="2" y="10.16" font-size="10.45" fill="#222" textLength="25.28" lengthAdjust="spacingAndGlyphs">외국식</text></svg>
<span class="n" style="left:263.88px;top:763.47px;font-size:10px;color:#3a3a3a;transform:scaleX(0.76);-webkit-text-stroke:0.25px #3a3a3a">385.8</span>
<span class="n" style="left:285.8px;top:762.88px;font-size:10px;font-weight:700;color:#e9781f;transform:scaleX(0.76)">390.4</span>
<svg class="k" style="left:264.13px;top:848.84px" width="20.85" height="13.59"><text x="2" y="10.16" font-size="10.45" fill="#222" textLength="16.85" lengthAdjust="spacingAndGlyphs">안경</text></svg><span class="n" style="left:283.38px;top:850.5px;font-size:10px;color:#222;transform:scaleX(0.85)">·</span><svg class="k" style="left:284.62px;top:848.84px" width="20.85" height="13.59"><text x="2" y="10.16" font-size="10.45" fill="#222" textLength="16.85" lengthAdjust="spacingAndGlyphs">렌즈</text></svg>
<span class="n" style="left:305.58px;top:769.78px;font-size:10px;color:#3a3a3a;transform:scaleX(0.76);-webkit-text-stroke:0.25px #3a3a3a">336.4</span>
<span class="n" style="left:327.5px;top:766.38px;font-size:10px;font-weight:700;color:#e9781f;transform:scaleX(0.76)">363.0</span>
<svg class="k" style="left:314.46px;top:848.84px" width="20.85" height="13.59"><text x="2" y="10.16" font-size="10.45" fill="#222" textLength="16.85" lengthAdjust="spacingAndGlyphs">피자</text></svg><span class="n" style="left:333.71px;top:850.5px;font-size:10px;color:#222;transform:scaleX(0.85)">·</span>
<svg class="k" style="left:311.86px;top:860.04px" width="29.28" height="13.59"><text x="2" y="10.16" font-size="10.45" fill="#222" textLength="25.28" lengthAdjust="spacingAndGlyphs">햄버거</text></svg>
<span class="n" style="left:135.6px;top:664.5px;font-size:10px;color:#222;transform:scaleX(0.84);-webkit-text-stroke:0.25px #222">2023</span><svg class="k" style="left:151.49px;top:664.07px" width="11.4" height="11.94"><text x="2" y="8.93" font-size="9.18" fill="#222" textLength="7.4" lengthAdjust="spacingAndGlyphs">년</text></svg>
<span class="n" style="left:187px;top:664.5px;font-size:10px;color:#222;transform:scaleX(0.84);-webkit-text-stroke:0.25px #222">2024</span><svg class="k" style="left:202.89px;top:664.07px" width="11.4" height="11.94"><text x="2" y="8.93" font-size="9.18" fill="#222" textLength="7.4" lengthAdjust="spacingAndGlyphs">년</text></svg>
<svg class="k" style="left:240px;top:664.05px" width="18.88" height="11.43"><text x="2" y="8.55" font-size="8.79" fill="#333" textLength="14.88" lengthAdjust="spacingAndGlyphs">단위</text></svg><span class="n" style="left:259.66px;top:664.95px;font-size:9px;color:#333;transform:scaleX(0.85)">:</span><svg class="k" style="left:262.57px;top:664.05px" width="26.33" height="11.43"><text x="2" y="8.55" font-size="8.79" fill="#333" textLength="22.33" lengthAdjust="spacingAndGlyphs">백만원</text></svg>
<svg class="a" style="left:0;top:0" width="650" height="919" viewBox="0 0 650 919"><defs><linearGradient id="tgr" x1="0" y1="0" x2="1" y2="0"><stop offset="0" stop-color="#f6b878"/><stop offset=".28" stop-color="#f19a40"/><stop offset="1" stop-color="#eb8620"/></linearGradient><linearGradient id="tgl" x1="1" y1="0" x2="0" y2="0"><stop offset="0" stop-color="#f6b878"/><stop offset=".28" stop-color="#f19a40"/><stop offset="1" stop-color="#eb8620"/></linearGradient></defs><path d="M449.5 668L511 668L516 676L521 685L527 695L534 705L540 715L544 725L545.5 735L546 745L546 755L547 763L549 767.5L547.5 773L546 782L542 792L540.6 797L537 801L533 803L530.7 807.5L526 809L524 812L521 809L517 807L513 809.6L509 808L506 811.6L502 809L497.6 809.7L494 812L491 814.6L488 813L485 818L481.6 815L479.4 818.6L476 817L474.4 821L471 820.6L469.4 826.2L466 823L464.5 826L461 825.6L459.5 829.9L456.2 834.5L453.6 831L451.2 833.2L449.6 838L447.9 840.5L443 841L441.6 837L439.6 834.5L441.3 829.9L437.6 828L436.3 824.6L438 820L434.6 817L434.7 813L436.6 809L434.5 805L436 798L438 790L440 783L442 776L443.5 768L445 761L442 756L439 752L436 748L434 743L435.5 737L439 733L444 731L449 729.5L452.6 726.6L449.5 722.8L448 719L451 714.3L449.5 709.7L446 706L445.5 701L443.4 700.5L437.2 703.5L433.4 700.5L435 696.6L439.5 695L438 690.5L437.5 685L441.8 681.2L448 682L454 678L456.5 677.4Z" fill="#f5c190" stroke="#f5c190" stroke-width="1" stroke-linejoin="round"/><path d="M449.5 668L511 668L516 676L521 685L527 695L534 705L540 715L543.5 723L537 725L529 722L521 726L513 722L506 724L499 720L492 715L486.4 711.6L482 706L477 702L478.6 697.4L479 690.5L474.6 686L469.5 681.4L465 680L460.3 676.4L456.5 677.4Z" fill="#f8d9b9" stroke="#fbe6d2" stroke-opacity=".55" stroke-width=".5" stroke-linejoin="round"/><path d="M481 722.6L485.6 717.4L486.4 711.6L492 715L499 720L506 724L513 722L516 728L514 735L507 738L501 743L496 750L492 757L492 765L490 772L485 771L481 767L480 760L476 753L473 744L470.5 738L473 732L474 729L476.4 725Z" fill="#f6cda5" stroke="#fbe6d2" stroke-opacity=".55" stroke-width=".5" stroke-linejoin="round"/><path d="M452.6 727L458.8 728.4L465 730.6L470 731.6L474 729L473 732L470.5 738L473 744L476 753L480 760L481 767L478 769L471 772L461 768L451 772L443.5 768L445 761L442 756L439 752L436 748L434 743L435.5 737L439 733L444 731L449 729.5Z" fill="#f5c497" stroke="#fbe6d2" stroke-opacity=".55" stroke-width=".5" stroke-linejoin="round"/><path d="M543.5 723L544 725L545.5 735L546 745L546 755L547 763L549 767.5L547.5 773L546 780L545 780L534 779L528 782L524.7 788L515 786L508 784L502 781L500 775L495 772.6L490 774L490 772L492 765L492 757L496 750L501 743L507 738L514 735L516 728L513 722L521 726L529 722L537 725Z" fill="#f6c99c" stroke="#fbe6d2" stroke-opacity=".55" stroke-width=".5" stroke-linejoin="round"/><path d="M443.5 768L451 772L461 768L471 772L478 769L481 767L485 771L490 772L490 774L487 778L484 781L482 787L481 792L479 794L474.5 794.6L464.5 793L456 791L447.7 792L441 789.6L438 790L440 783L442 776Z" fill="#f7d2ab" stroke="#fbe6d2" stroke-opacity=".55" stroke-width=".5" stroke-linejoin="round"/><path d="M487 778L490 774L495 772.6L500 775L502 781L508 784L515 786L524.7 788L528 782L529.4 790L529.4 793L526 797L524.6 801L527 805L530 806L524 808.5L519 806L514 808L509 810L504 808L499 809L495 807L490 811L486 816L483 812L481.4 804L481 795L482 787L484 781Z" fill="#f0a55b" stroke="#fbe6d2" stroke-opacity=".55" stroke-width=".5" stroke-linejoin="round"/><path d="M465 741L469 738.4L472.6 741L473.4 747L472 753L468 756.4L464.6 752L463.8 746Z" fill="#fdf0e3" stroke="#fbe6d2" stroke-opacity=".55" stroke-width=".5" stroke-linejoin="round"/><path d="M471.6 755L476 752.6L480 755L481.4 760L478 764.4L473.4 763L471 759Z" fill="#f9dcc0" stroke="#fbe6d2" stroke-opacity=".55" stroke-width=".5" stroke-linejoin="round"/><path d="M507.6 775L510 770.6L515 768L520 768.4L521.4 772L518.6 777L513.6 781.4L509 781.6Z" fill="#fae0c8" stroke="#fbe6d2" stroke-opacity=".55" stroke-width=".5" stroke-linejoin="round"/><path d="M528 782L534 779L545 780L546 782L544 787L542 792L534 794L529.4 790Z" fill="#fcebdb" stroke="#fbe6d2" stroke-opacity=".55" stroke-width=".5" stroke-linejoin="round"/><path d="M526 797L529.4 793L534 794L542 792L540 796L537 800L530 806L527 805L524.6 801Z" fill="#f3b47a" stroke="#fbe6d2" stroke-opacity=".55" stroke-width=".5" stroke-linejoin="round"/><path d="M448.4 798.6L451.6 796L456 796.4L458 800L456 804L451.6 804.6L448.6 802.4Z" fill="#fbe2ca" stroke="#fbe6d2" stroke-opacity=".55" stroke-width=".5" stroke-linejoin="round"/><path d="M437.5 685L441.8 681.2L448 682L454 678L460.3 676.4L465 680L469.5 681.4L474.6 686L479 690.5L478.6 697.4L477 702L482 706L486.4 711.6L485.6 717.4L481 722.6L476.4 725L474 729L470 731.6L465 730.6L458.8 728.4L452.6 727L449.5 722.8L448 719L451 714.3L449.5 709.7L446 706L445.5 701L443.4 700.5L437.2 703.5L433.4 700.5L435 696.6L439.5 695L438 690.5Z" fill="#e8811c" stroke="#e8811c" stroke-width=".8" stroke-linejoin="round"/><path d="M453.6 703.6L456 700.6L459.5 700.2L462 701.4L464.4 704L463.8 707.6L460 709.6L456.4 709L453.4 707Z" fill="#f1a962" stroke="#f5c08a" stroke-width=".5"/><path d="M445.6 704.6L449.6 703.4L452.4 706L451.4 710L451.6 713L449 714.6L446.8 711L445.4 708Z" fill="#f4b982" /><path d="M438.6 691.6C440 695.6 445 697.6 449 694" fill="none" stroke="#fff" stroke-width="1.5" stroke-linecap="round"/><path d="M516.8 818.6L513.6 816.9L514.8 813.4L515.8 810L519.1 809.6L521.4 811.7L523.7 814.3L521.7 817.1L519.7 819.7Z" fill="#f0a55b" stroke="#f0a55b" stroke-width=".6" stroke-linejoin="round"/><path d="M495.1 818L493.7 820.5L490.9 821.1L490 817.8L489.9 815L491.3 812.3L494.4 811.8L496 815.1Z" fill="#f0a55b" stroke="#f0a55b" stroke-width=".6" stroke-linejoin="round"/><path d="M502.1 814.8L502.6 813.1L503.7 811.8L505.4 812.8L505.5 814.1L504.2 814.8Z" fill="#f0a55b" stroke="#f0a55b" stroke-width=".6" stroke-linejoin="round"/><path d="M527 814.1L526.3 812.5L527.2 811.2L529 811.8L528.7 813.4Z" fill="#f0a55b" stroke="#f0a55b" stroke-width=".6" stroke-linejoin="round"/><path d="M474.7 824.1L475.9 822.9L477.7 822.9L479.3 824.2L478.4 826.1L476.4 826.7L474.4 826Z" fill="#f5c190" stroke="#f5c190" stroke-width=".6" stroke-linejoin="round"/><path d="M481.2 822.1L481.2 820.1L483.5 819.5L484.8 821.1L484.6 823L482.5 823.5Z" fill="#f5c190" stroke="#f5c190" stroke-width=".6" stroke-linejoin="round"/><path d="M469.7 829.3L470 831.2L469.4 833.3L466.9 832.6L465.1 831.7L465 829.7L467.3 829.3Z" fill="#f5c190" stroke="#f5c190" stroke-width=".6" stroke-linejoin="round"/><path d="M459.7 836.7L459.7 835L462 834.4L463.9 835.6L464.4 837.5L462.3 838.3L460 838.4Z" fill="#f5c190" stroke="#f5c190" stroke-width=".6" stroke-linejoin="round"/><path d="M453.7 839.7L455.5 839.1L457.4 839.8L457.4 841.7L455.3 842.1L453.5 841.3Z" fill="#f5c190" stroke="#f5c190" stroke-width=".6" stroke-linejoin="round"/><path d="M474.2 831.2L472.5 832.1L470.7 831L471.6 829.3L473.5 829.7Z" fill="#f5c190" stroke="#f5c190" stroke-width=".6" stroke-linejoin="round"/><path d="M435.7 839.4L435.9 837.5L437.2 836.1L439.1 836.9L439.4 838.5L437.9 839.5Z" fill="#f5c190" stroke="#f5c190" stroke-width=".6" stroke-linejoin="round"/><path d="M433.8 828.6L435 829.4L434.9 831L433.4 832.1L432.3 830.5L432.2 829Z" fill="#f5c190" stroke="#f5c190" stroke-width=".6" stroke-linejoin="round"/><path d="M429.8 820.8L431.2 819.2L433 819.9L432.9 822.2L431.9 823.6L430.5 822.9Z" fill="#f5c190" stroke="#f5c190" stroke-width=".6" stroke-linejoin="round"/><path d="M432.8 810.3L432.5 812.2L431.1 812.9L430.1 811.7L430.9 810.4Z" fill="#f5c190" stroke="#f5c190" stroke-width=".6" stroke-linejoin="round"/><path d="M440.2 845.8L441.4 844.5L443.3 844.5L444.8 845.5L443.9 846.8L441.6 847.1Z" fill="#f5c190" stroke="#f5c190" stroke-width=".6" stroke-linejoin="round"/><path d="M451.2 844.2L450.5 845.7L448.6 845.8L448 844.1L449.6 843.6Z" fill="#f5c190" stroke="#f5c190" stroke-width=".6" stroke-linejoin="round"/><path d="M433.3 802.1L433.3 803.9L431.5 804.5L430.7 803L431.6 801.8Z" fill="#f5c190" stroke="#f5c190" stroke-width=".6" stroke-linejoin="round"/><path d="M439.5 709.3L437.8 709.5L436.7 708.8L436.8 707.7L438.2 707.2L439.5 707.9Z" fill="#f4b982" stroke="#f4b982" stroke-width=".6" stroke-linejoin="round"/><path d="M443.6 707.5L442.6 708.2L441.5 707.5L441.8 706.2L443.3 706.4Z" fill="#f4b982" stroke="#f4b982" stroke-width=".6" stroke-linejoin="round"/><path d="M440.8 713.9L440.9 715.3L440 716.2L438.5 716L438.1 714.7L439.2 713.9Z" fill="#f4b982" stroke="#f4b982" stroke-width=".6" stroke-linejoin="round"/><path d="M444.8 717L445.2 718.5L444.3 719.6L442.8 719.3L442.3 718.3L443 717.3Z" fill="#f4b982" stroke="#f4b982" stroke-width=".6" stroke-linejoin="round"/><path d="M436.3 713.1L435.5 712.2L436 711.4L437.3 711.1L437.5 712.4Z" fill="#f4b982" stroke="#f4b982" stroke-width=".6" stroke-linejoin="round"/><path d="M441.7 723.4L440.5 723.2L439.9 722.3L441 721.4L442.3 722.2Z" fill="#f4b982" stroke="#f4b982" stroke-width=".6" stroke-linejoin="round"/><path d="M553.4 698.4L556.3 698.3L557.9 699.8L559 701.9L556 703.2L552.5 703.4L550.9 701.4L551.3 699.6Z" fill="#f0a55b" stroke="#f0a55b" stroke-width=".6" stroke-linejoin="round"/><path d="M562.2 708.9L563.5 710.5L561.9 711.8L559.7 711.2L559.9 709.5Z" fill="#f0a55b" stroke="#f0a55b" stroke-width=".6" stroke-linejoin="round"/><ellipse cx="442" cy="859.4" rx="13.6" ry="5.8" fill="#fbe3cc" transform="rotate(-9 442 859.4)"/><path d="M398 683L427 683L433 688.2L427 693.4L398 693.4Z" fill="url(#tgr)" /><path d="M398 711L427 711L433 716.2L427 721.4L398 721.4Z" fill="url(#tgr)" /><path d="M428 737.4L457 737.4L463 742.6L457 747.8L428 747.8Z" fill="url(#tgr)" /><path d="M398 751.4L427 751.4L433 756.6L427 761.8L398 761.8Z" fill="url(#tgr)" /><path d="M398 775L427 775L433 780.2L427 785.4L398 785.4Z" fill="url(#tgr)" /><path d="M408 797.6L437 797.6L443 802.8L437 808L408 808Z" fill="url(#tgr)" /><path d="M402.6 822L431.6 822L437.6 827.2L431.6 832.4L402.6 832.4Z" fill="url(#tgr)" /><path d="M389 855.6L418 855.6L424 860.8L418 866L389 866Z" fill="url(#tgr)" /><path d="M500.6 704L472 704L466 709.2L472 714.4L500.6 714.4Z" fill="url(#tgl)" /><path d="M554.6 679L526 679L520 684.2L526 689.4L554.6 689.4Z" fill="url(#tgl)" /><path d="M530.4 724L502 724L496 729.2L502 734.4L530.4 734.4Z" fill="url(#tgl)" /><path d="M584.4 733.4L556 733.4L550 738.6L556 743.8L584.4 743.8Z" fill="url(#tgl)" /><path d="M514 749.6L485.4 749.6L479.4 754.8L485.4 760L514 760Z" fill="url(#tgl)" /><path d="M557 763L528.4 763L522.4 768.2L528.4 773.4L557 773.4Z" fill="url(#tgl)" /><path d="M584.2 778.4L555.6 778.4L549.6 783.6L555.6 788.8L584.2 788.8Z" fill="url(#tgl)" /><path d="M573.6 802.4L545 802.4L539 807.6L545 812.8L573.6 812.8Z" fill="url(#tgl)" /><path d="M462.6 786.4L491 786.4L497 791.6L491 796.8L462.6 796.8Z" fill="url(#tgr)" /></svg>
<span class="n" style="text-shadow:0 0 1.2px #c2660c;left:400.35px;top:682.79px;font-size:10.6px;font-weight:700;color:#fff;transform:scaleX(0.83)">84,724</span>
<svg class="k" style="left:398.48px;top:670.69px" width="19.05" height="12.45"><text x="2" y="9.31" font-size="9.57" fill="#222" textLength="15.05" lengthAdjust="spacingAndGlyphs">경기</text></svg>
<span class="n" style="text-shadow:0 0 1.2px #c2660c;left:400.35px;top:710.79px;font-size:10.6px;font-weight:700;color:#fff;transform:scaleX(0.83)">18,244</span>
<svg class="k" style="left:398.98px;top:698.29px" width="19.05" height="12.45"><text x="2" y="9.31" font-size="9.57" fill="#222" textLength="15.05" lengthAdjust="spacingAndGlyphs">인천</text></svg>
<span class="n" style="text-shadow:0 0 1.2px #c2660c;left:432.79px;top:737.19px;font-size:10.6px;font-weight:700;color:#fff;transform:scaleX(0.83)">2,445</span>
<svg class="k" style="left:427.98px;top:724.69px" width="19.05" height="12.45"><text x="2" y="9.31" font-size="9.57" fill="#222" textLength="15.05" lengthAdjust="spacingAndGlyphs">세종</text></svg>
<span class="n" style="text-shadow:0 0 1.2px #c2660c;left:400.35px;top:751.19px;font-size:10.6px;font-weight:700;color:#fff;transform:scaleX(0.83)">14,432</span>
<svg class="k" style="left:398.98px;top:739.29px" width="19.05" height="12.45"><text x="2" y="9.31" font-size="9.57" fill="#222" textLength="15.05" lengthAdjust="spacingAndGlyphs">충남</text></svg>
<span class="n" style="text-shadow:0 0 1.2px #c2660c;left:400.35px;top:774.79px;font-size:10.6px;font-weight:700;color:#fff;transform:scaleX(0.83)">10,236</span>
<svg class="k" style="left:398.98px;top:762.09px" width="19.05" height="12.45"><text x="2" y="9.31" font-size="9.57" fill="#222" textLength="15.05" lengthAdjust="spacingAndGlyphs">전북</text></svg>
<span class="n" style="text-shadow:0 0 1.2px #c2660c;left:412.79px;top:797.39px;font-size:10.6px;font-weight:700;color:#fff;transform:scaleX(0.83)">9,158</span>
<svg class="k" style="left:406.98px;top:785.09px" width="19.05" height="12.45"><text x="2" y="9.31" font-size="9.57" fill="#222" textLength="15.05" lengthAdjust="spacingAndGlyphs">광주</text></svg>
<span class="n" style="text-shadow:0 0 1.2px #c2660c;left:404.95px;top:821.79px;font-size:10.6px;font-weight:700;color:#fff;transform:scaleX(0.83)">10,069</span>
<svg class="k" style="left:401.98px;top:809.69px" width="19.05" height="12.45"><text x="2" y="9.31" font-size="9.57" fill="#222" textLength="15.05" lengthAdjust="spacingAndGlyphs">전남</text></svg>
<span class="n" style="text-shadow:0 0 1.2px #c2660c;left:393.79px;top:855.39px;font-size:10.6px;font-weight:700;color:#fff;transform:scaleX(0.83)">4,830</span>
<svg class="k" style="left:388.48px;top:842.69px" width="19.05" height="12.45"><text x="2" y="9.31" font-size="9.57" fill="#222" textLength="15.05" lengthAdjust="spacingAndGlyphs">제주</text></svg>
<span class="n" style="text-shadow:0 0 1.2px #c2660c;left:472.45px;top:703.79px;font-size:10.6px;font-weight:700;color:#fff;transform:scaleX(0.83)">52,855</span>
<svg class="k" style="left:479.98px;top:690.69px" width="19.05" height="12.45"><text x="2" y="9.31" font-size="9.57" fill="#222" textLength="15.05" lengthAdjust="spacingAndGlyphs">서울</text></svg>
<span class="n" style="text-shadow:0 0 1.2px #c2660c;left:526.45px;top:678.79px;font-size:10.6px;font-weight:700;color:#fff;transform:scaleX(0.83)">10,823</span>
<svg class="k" style="left:535.48px;top:666.69px" width="19.05" height="12.45"><text x="2" y="9.31" font-size="9.57" fill="#222" textLength="15.05" lengthAdjust="spacingAndGlyphs">강원</text></svg>
<span class="n" style="text-shadow:0 0 1.2px #c2660c;left:502.35px;top:723.79px;font-size:10.6px;font-weight:700;color:#fff;transform:scaleX(0.83)">10,624</span>
<svg class="k" style="left:511.88px;top:712.29px" width="19.05" height="12.45"><text x="2" y="9.31" font-size="9.57" fill="#222" textLength="15.05" lengthAdjust="spacingAndGlyphs">충북</text></svg>
<span class="n" style="text-shadow:0 0 1.2px #c2660c;left:556.35px;top:733.19px;font-size:10.6px;font-weight:700;color:#fff;transform:scaleX(0.83)">15,289</span>
<svg class="k" style="left:565.08px;top:721.29px" width="19.05" height="12.45"><text x="2" y="9.31" font-size="9.57" fill="#222" textLength="15.05" lengthAdjust="spacingAndGlyphs">경북</text></svg>
<span class="n" style="text-shadow:0 0 1.2px #c2660c;left:488.29px;top:749.39px;font-size:10.6px;font-weight:700;color:#fff;transform:scaleX(0.83)">9,123</span>
<svg class="k" style="left:494.08px;top:737.29px" width="19.05" height="12.45"><text x="2" y="9.31" font-size="9.57" fill="#222" textLength="15.05" lengthAdjust="spacingAndGlyphs">대전</text></svg>
<span class="n" style="text-shadow:0 0 1.2px #c2660c;left:528.85px;top:762.79px;font-size:10.6px;font-weight:700;color:#fff;transform:scaleX(0.83)">13,692</span>
<svg class="k" style="left:537.08px;top:751.09px" width="19.05" height="12.45"><text x="2" y="9.31" font-size="9.57" fill="#222" textLength="15.05" lengthAdjust="spacingAndGlyphs">대구</text></svg>
<span class="n" style="text-shadow:0 0 1.2px #c2660c;left:558.49px;top:778.19px;font-size:10.6px;font-weight:700;color:#fff;transform:scaleX(0.83)">7,071</span>
<svg class="k" style="left:564.08px;top:766.09px" width="19.05" height="12.45"><text x="2" y="9.31" font-size="9.57" fill="#222" textLength="15.05" lengthAdjust="spacingAndGlyphs">울산</text></svg>
<span class="n" style="text-shadow:0 0 1.2px #c2660c;left:545.45px;top:802.19px;font-size:10.6px;font-weight:700;color:#fff;transform:scaleX(0.83)">19,572</span>
<svg class="k" style="left:553.08px;top:789.69px" width="19.05" height="12.45"><text x="2" y="9.31" font-size="9.57" fill="#222" textLength="15.05" lengthAdjust="spacingAndGlyphs">부산</text></svg>
<span class="n" style="text-shadow:0 0 1.2px #c2660c;left:464.65px;top:786.19px;font-size:10.6px;font-weight:700;color:#fff;transform:scaleX(0.83)">20,693</span>
<svg class="k" style="left:463.08px;top:774.09px" width="19.05" height="12.45"><text x="2" y="9.31" font-size="9.57" fill="#222" textLength="15.05" lengthAdjust="spacingAndGlyphs">경남</text></svg>
<svg class="k" style="left:566.59px;top:659.45px" width="18.88" height="11.43"><text x="2" y="8.55" font-size="8.79" fill="#333" textLength="14.88" lengthAdjust="spacingAndGlyphs">단위</text></svg><span class="n" style="left:586.25px;top:660.35px;font-size:9px;color:#333;transform:scaleX(0.85)">:</span><svg class="k" style="left:589.16px;top:659.45px" width="11.44" height="11.43"><text x="2" y="8.55" font-size="8.79" fill="#333" textLength="7.44" lengthAdjust="spacingAndGlyphs">개</text></svg>
<svg class="a" style="left:0;top:0" width="650" height="122" viewBox="0 0 650 122"><defs><clipPath id="lg"><circle cx="520.6" cy="35.4" r="14.3"/></clipPath></defs><circle cx="520.6" cy="35.4" r="15.5" fill="#fff"/><g clip-path="url(#lg)"><rect x="500" y="15" width="42" height="42" fill="#d1203a"/><circle cx="517.4" cy="37.3" r="14.4" fill="#17377a"/><path d="M511.2 31.5C511.2 27 515 24.6 519.5 24.6C524.5 24.6 529.5 27.3 530.6 32.5C531.5 37 530.6 42 527.4 47.2C528.8 42.6 529.6 38.8 528.6 36.4C527.4 33.6 524.4 32.8 522.2 34.6C520 36.4 518.6 38.4 516 38.4C513 38.4 511.2 35 511.2 31.5Z" fill="#fff"/></g><rect x="471.2" y="66" width="31.8" height="21.6" rx="1.2" fill="#34579b" stroke="#1f2d55" stroke-width="1"/><rect x="471.7" y="70.8" width="30.8" height="3" fill="#dbe7f6"/><path d="M474.6 80H483M474.6 84H483M486 84H491" stroke="#fff" stroke-width="1.7"/><circle cx="500.8" cy="83.8" r="7.2" fill="#fff" stroke="#1f2d55" stroke-width="1.2"/><path d="M496.4 80.6l2 6.4l2.4 -6.4l2.4 6.4l2 -6.4M495.6 83.2h10.4" fill="none" stroke="#1f2d55" stroke-width="1.1" stroke-linejoin="round"/><path d="M456 101.6l11.6 -2.4l11.2 2l9 -2.6V122H456Z" fill="#f4c6bd" stroke="#2b3350" stroke-width="1" stroke-linejoin="round"/><path d="M478.8 101.2l9 -2.6V122h-9Z" fill="#eaa9a2" stroke="#2b3350" stroke-width="1" stroke-linejoin="round"/><path d="M467.6 99.2V122" stroke="#2b3350" stroke-width="1"/><path d="M460 106v4.4a1.6 1.6 0 0 0 3.2 0V106M461.6 106v12" fill="none" stroke="#6b4a5a" stroke-width=".9"/><path d="M470 107h3M474.6 107h2.6M470 110h3M474.6 110h2.6M470 116h3M474.6 116h2.6M470 119h3" stroke="#8a5f6a" stroke-width="1"/><circle cx="483.2" cy="109" r="2" fill="none" stroke="#6b4a5a" stroke-width=".9"/><path d="M483.2 111v8" stroke="#6b4a5a" stroke-width=".9"/><path d="M512 100c4 -3 10 -3 12.6 0.6V122H512Z" fill="#d98f45" stroke="#2b3350" stroke-width="1"/><path d="M489 103.4c0 -3.4 2.6 -5.2 6 -5.2h13c3.6 0 6 1.8 6 5.2V122H489Z" fill="#f6e3c6" stroke="#c5803c" stroke-width="1.4"/><path d="M494 112c1 -3 1.6 -6 3 -6s1 4 2.2 4s1.2 -6 2.6 -6s1 5 2.2 5s1.4 -4 2.6 -4s1.6 4.6 .6 8.6c-1 3 -2 1 -3 2.4s-1.4 3 -2.6 3s-1.2 -2.6 -2.4 -2.6s-1.6 1.6 -2.8 .6s-3 -2 -2.4 -5Z" fill="#8252a8"/><rect x="526.6" y="96.6" width="29" height="25.4" fill="#fff" stroke="#2b3350" stroke-width="1"/><path d="M524.6 96.6l2.6 -5.8h27.8l2.6 5.8Z" fill="#3f7fc8" stroke="#2b3350" stroke-width="1" stroke-linejoin="round"/><path d="M526.6 101.4h29" stroke="#3f7fc8" stroke-width="1.6"/><rect x="529.6" y="107" width="6" height="15" fill="#4a8ad0" stroke="#2b3350" stroke-width=".8"/><rect x="538.6" y="110.6" width="8.4" height="11.4" fill="#f6a81c" stroke="#2b3350" stroke-width=".8"/><rect x="549.6" y="107" width="6" height="15" fill="#4a8ad0" stroke="#2b3350" stroke-width=".8"/><path d="M542.6 86.6V91M539 91h7.4" stroke="#2b3350" stroke-width="1.2"/><path d="M548 79.6h2.4a1.8 1.8 0 0 1 0 3.8H548" fill="none" stroke="#2b3350" stroke-width="1.1"/><path d="M537 78h11.4v3a5.7 5.7 0 0 1 -11.4 0Z" fill="#fff" stroke="#2b3350" stroke-width="1.1" stroke-linejoin="round"/><circle cx="523" cy="117.6" r="5.8" fill="#f1dcae" stroke="#2b3350" stroke-width="1" stroke-dasharray="1.6 .8"/><circle cx="532.4" cy="118.2" r="4.8" fill="#f1dcae" stroke="#2b3350" stroke-width="1" stroke-dasharray="1.6 .8"/><path d="M520.6 116h.1M524 115h.1M522.6 119h.1M525.4 118.6h.1M531 117h.1M533.6 119h.1M533.4 116h.1" stroke="#a9742f" stroke-width="1.3" stroke-linecap="round"/><rect x="557.4" y="104" width="47" height="18" fill="#c6cad0" stroke="#2b3350" stroke-width="1"/><rect x="568.4" y="109.4" width="25" height="12.6" fill="#fff" stroke="#2b3350" stroke-width="1"/><path d="M580.9 109.4V122" stroke="#2b3350" stroke-width="1"/><circle cx="575.4" cy="114.4" r="1.7" fill="#fff" stroke="#2b3350" stroke-width="1"/><circle cx="586.4" cy="114.4" r="1.7" fill="#fff" stroke="#2b3350" stroke-width="1"/><path d="M561 84h39.6l6.6 16H553.8Z" fill="#f07c7c" stroke="#2b3350" stroke-width="1" stroke-linejoin="round"/><path d="M553.8 100v4.6a3.81 3.81 0 0 0 7.63 0V100Z" fill="#ef6f6f" stroke="#2b3350" stroke-width=".9"/><path d="M561.43 100v4.6a3.81 3.81 0 0 0 7.63 0V100Z" fill="#fff" stroke="#2b3350" stroke-width=".9"/><path d="M569.06 100v4.6a3.81 3.81 0 0 0 7.63 0V100Z" fill="#ef6f6f" stroke="#2b3350" stroke-width=".9"/><path d="M576.69 100v4.6a3.81 3.81 0 0 0 7.63 0V100Z" fill="#fff" stroke="#2b3350" stroke-width=".9"/><path d="M584.31 100v4.6a3.81 3.81 0 0 0 7.63 0V100Z" fill="#ef6f6f" stroke="#2b3350" stroke-width=".9"/><path d="M591.94 100v4.6a3.81 3.81 0 0 0 7.63 0V100Z" fill="#fff" stroke="#2b3350" stroke-width=".9"/><path d="M599.57 100v4.6a3.81 3.81 0 0 0 7.63 0V100Z" fill="#ef6f6f" stroke="#2b3350" stroke-width=".9"/><rect x="564.8" y="80.4" width="30.8" height="12.6" rx="2" fill="#fff" stroke="#2b3350" stroke-width="1.2"/><text x="580.2" y="90.4" font-size="9.4" text-anchor="middle" fill="#2b3a66" font-family="Liberation Sans,sans-serif" textLength="24" lengthAdjust="spacingAndGlyphs">SHOP</text><path d="M617.6 97l4 -7.6M620.6 98.6l3.6 -7" stroke="#a5643a" stroke-width="1.5" stroke-linecap="round"/><circle cx="611.8" cy="100" r="4.2" fill="#f3d9a8" stroke="#2b3350" stroke-width=".8"/><circle cx="618.6" cy="102" r="4.2" fill="#e8747c" stroke="#2b3350" stroke-width=".8"/><path d="M604.8 104.6h19.6c0 6.6 -4.4 10.6 -9.8 10.6s-9.8 -4 -9.8 -10.6Z" fill="#a9d3df" stroke="#2b3350" stroke-width="1"/><path d="M614.6 115.2V122M610.4 122h8.4" stroke="#2b3350" stroke-width="1.2"/><circle cx="629" cy="115.8" r="1.5" fill="none" stroke="#2f7f3f" stroke-width=".9"/><circle cx="453.2" cy="105.4" r="1.3" fill="none" stroke="#2f7f3f" stroke-width=".8"/><path d="M489 95h.1M519.6 94.6h.1M606.6 88.6h.1M626.6 96.6h.1M498.8 92.6h.1" stroke="#fff" stroke-width="1.6" stroke-linecap="round"/></svg>
<svg class="k" style="left:538.4px;top:24.45px" width="80.92" height="16.51"><text x="2" y="12.35" font-size="12.7" font-weight="700" fill="#1f1f1f" textLength="76.92" lengthAdjust="spacingAndGlyphs">국가데이터처</text></svg>
<span class="n" style="left:540.6px;top:40px;font-size:6.4px;color:#2a2a2a;transform:scaleX(.96)">Ministry of Data and Statistics</span>
</body></html>
